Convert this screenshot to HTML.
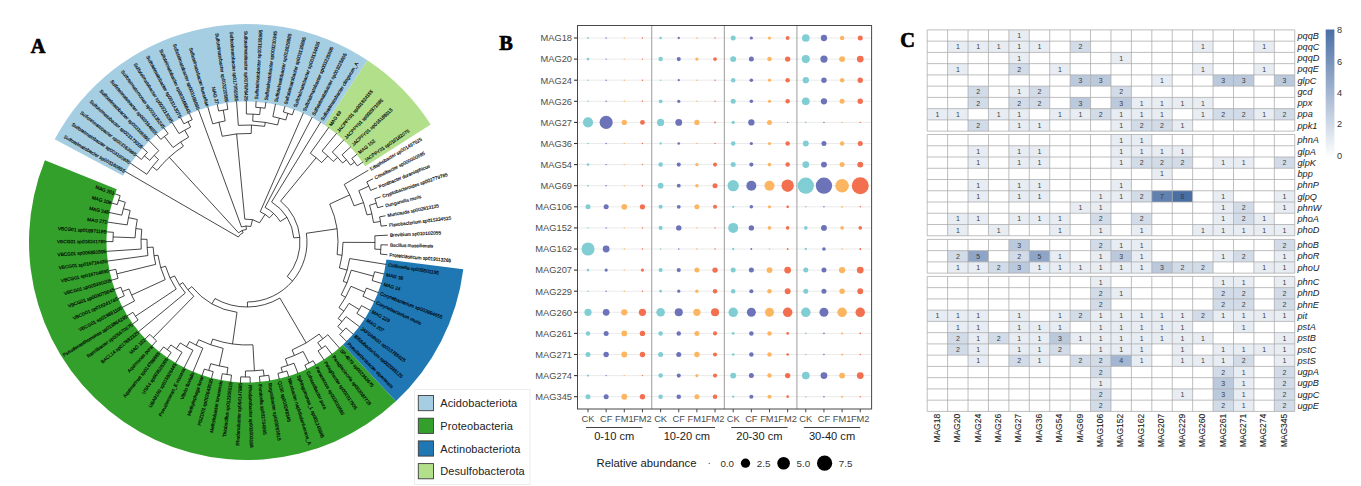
<!DOCTYPE html>
<html><head><meta charset="utf-8"><style>
html,body{margin:0;padding:0;background:#fff;}
svg{display:block;font-family:"Liberation Sans", sans-serif;}
</style></head><body>
<svg width="1361" height="486" viewBox="0 0 1361 486">
<rect width="1361" height="486" fill="#fff"/>
<path d="M44.93 160.20A218.0 218.0 0 0 0 395.86 401.27L342.94 344.65A140.5 140.5 0 0 1 116.77 189.28Z" fill="#33a02c"/><path d="M395.86 401.27A218.0 218.0 0 0 0 463.30 269.19L386.40 259.53A140.5 140.5 0 0 1 342.94 344.65Z" fill="#1f78b4"/><path d="M430.65 124.53A218.0 218.0 0 0 0 367.43 60.28L324.62 124.88A140.5 140.5 0 0 1 365.36 166.29Z" fill="#b2df8a"/><path d="M367.43 60.28A218.0 218.0 0 0 0 54.67 139.37L123.04 175.85A140.5 140.5 0 0 1 324.62 124.88Z" fill="#a6cee3"/><path d="M243.12 232.78A10.00 10.00 0 0 0 238.35 236.99M243.12 232.78L242.15 230.48M238.35 236.99L124.98 171.34M246.32 229.52A12.50 12.50 0 0 0 238.55 232.79M246.32 229.52L246.12 226.02M238.55 232.79L169.27 157.25M250.84 226.47A16.00 16.00 0 0 0 241.49 226.98M250.84 226.47L252.52 219.67M241.49 226.98L198.41 109.64M259.61 222.77A23.00 23.00 0 0 0 244.80 219.11M259.61 222.77L265.10 214.40M244.80 219.11L236.61 133.90M269.47 217.83A33.00 33.00 0 0 0 260.21 211.76M269.47 217.83L273.56 213.44M260.21 211.76L303.43 112.78M280.17 221.49A39.00 39.00 0 0 0 265.05 207.43M280.17 221.49L286.98 217.28M265.05 207.43L312.25 117.01M293.82 237.90A47.00 47.00 0 0 0 271.59 201.95M293.82 237.90L299.80 237.38M271.59 201.95L320.77 121.84M287.23 276.50A53.00 53.00 0 0 0 280.62 201.03M287.23 276.50L292.55 281.06M280.62 201.03L316.15 157.74M247.43 302.00A60.00 60.00 0 0 0 306.36 233.28M247.43 302.00L247.47 307.00M306.36 233.28L337.03 228.78M214.94 298.54A65.00 65.00 0 0 0 279.88 298.07M214.94 298.54L211.98 303.76M279.88 298.07L306.18 342.93M191.79 286.65A71.00 71.00 0 0 0 237.02 312.30M191.79 286.65L187.91 289.79M237.02 312.30L232.53 343.98M182.80 282.67A76.00 76.00 0 0 0 193.80 296.27M182.80 282.67L179.42 284.81M193.80 296.27L153.20 337.69M174.56 275.94A80.00 80.00 0 0 0 185.36 293.00M174.56 275.94L170.03 278.06M185.36 293.00L138.37 331.89M165.53 266.24A85.00 85.00 0 0 0 176.23 289.09M165.53 266.24L160.74 267.66M176.23 289.09L135.44 316.23M157.98 255.21A90.00 90.00 0 0 0 165.23 279.60M157.98 255.21L154.02 255.80M165.23 279.60L131.61 295.05M153.14 247.13A94.00 94.00 0 0 0 155.70 264.35M153.14 247.13L147.15 247.46M155.70 264.35L116.84 273.86M147.04 239.33A100.00 100.00 0 0 0 147.92 255.55M147.04 239.33L141.04 239.17M147.92 255.55L107.30 261.11M141.76 229.31A106.00 106.00 0 0 0 141.23 249.05M141.76 229.31L135.81 228.59M141.23 249.05L106.31 251.37M137.29 219.48A112.00 112.00 0 0 0 135.08 237.79M137.29 219.48L128.47 217.67M135.08 237.79L113.09 236.96M130.17 210.52A121.00 121.00 0 0 0 127.21 224.91M130.17 210.52L123.41 208.70M127.21 224.91L107.41 222.09M125.31 202.32A128.00 128.00 0 0 0 121.84 215.18M125.31 202.32L118.65 200.14M121.84 215.18L109.13 212.45M120.18 195.72A135.00 135.00 0 0 0 117.28 204.62M120.18 195.72L114.55 193.66M117.28 204.62L111.51 202.96M113.35 232.32A134.00 134.00 0 0 0 113.00 241.61M113.35 232.32L106.37 231.82M113.00 241.61L106.00 241.59M115.82 269.32A134.00 134.00 0 0 0 118.03 278.36M115.82 269.32L108.96 270.75M118.03 278.36L111.29 280.26M129.01 288.98A127.00 127.00 0 0 0 134.53 300.98M129.01 288.98L122.50 291.56M134.53 300.98L122.13 307.49M120.86 287.21A134.00 134.00 0 0 0 124.30 295.85M120.86 287.21L114.27 289.58M124.30 295.85L117.89 298.67M132.93 312.32A134.00 134.00 0 0 0 138.08 320.06M132.93 312.32L126.97 315.99M138.08 320.06L132.39 324.14M149.93 334.38A134.00 134.00 0 0 0 156.57 340.89M149.93 334.38L144.86 339.20M156.57 340.89L151.85 346.05M212.70 339.12A103.00 103.00 0 0 0 252.92 344.83M212.70 339.12L210.71 344.78M252.92 344.83L254.41 370.79M198.73 339.73A109.00 109.00 0 0 0 223.20 348.37M198.73 339.73L196.07 345.11M223.20 348.37L219.27 365.93M189.48 341.58A115.00 115.00 0 0 0 202.89 348.20M189.48 341.58L186.48 346.78M202.89 348.20L192.91 372.21M180.23 342.91A121.00 121.00 0 0 0 192.95 350.26M180.23 342.91L176.37 348.75M192.95 350.26L184.01 368.15M170.91 344.93A128.00 128.00 0 0 0 182.02 352.28M170.91 344.93L167.34 349.75M182.02 352.28L175.42 363.48M163.65 346.92A134.00 134.00 0 0 0 171.13 352.45M163.65 346.92L159.29 352.40M171.13 352.45L167.16 358.22M210.74 363.71A127.00 127.00 0 0 0 227.93 367.56M210.74 363.71L208.74 370.42M227.93 367.56L226.88 374.48M204.31 369.02A134.00 134.00 0 0 0 213.22 371.67M204.31 369.02L202.08 375.65M213.22 371.67L211.45 378.45M222.29 373.70A134.00 134.00 0 0 0 231.49 375.10M222.29 373.70L221.00 380.58M231.49 375.10L230.68 382.05M245.46 370.99A129.00 129.00 0 0 0 263.33 369.96M245.46 370.99L245.39 376.99M263.33 369.96L264.09 375.91M240.71 376.85A135.00 135.00 0 0 0 250.08 376.96M240.71 376.85L240.43 382.85M250.08 376.96L250.21 382.96M259.43 376.43A135.00 135.00 0 0 0 268.72 375.24M259.43 376.43L259.98 382.40M268.72 375.24L269.69 381.16M292.12 349.95A117.00 117.00 0 0 0 319.18 334.08M292.12 349.95L294.43 355.49M319.18 334.08L322.88 338.80M285.43 358.84A123.00 123.00 0 0 0 303.14 351.44M285.43 358.84L287.62 365.49M303.14 351.44L309.07 363.01M281.14 367.44A130.00 130.00 0 0 0 293.99 363.21M281.14 367.44L282.45 372.26M293.99 363.21L297.97 373.47M277.91 373.41A135.00 135.00 0 0 0 286.95 370.95M277.91 373.41L279.29 379.25M286.95 370.95L288.73 376.68M304.84 365.09A136.00 136.00 0 0 0 313.23 360.78M304.84 365.09L306.96 369.61M313.23 360.78L315.67 365.15M317.74 342.62A123.00 123.00 0 0 0 327.82 334.72M317.74 342.62L321.77 348.35M327.82 334.72L339.65 348.29M318.04 350.88A130.00 130.00 0 0 0 325.42 345.69M318.04 350.88L324.05 360.09M325.42 345.69L332.05 354.46M337.13 254.57A91.00 91.00 0 0 0 329.71 204.05M337.13 254.57L342.08 255.26M329.71 204.05L349.70 194.87M339.43 267.94A96.00 96.00 0 0 0 343.00 242.34M343.00 242.34L375.00 242.46M339.43 267.94L347.13 270.11M374.80 249.12A128.00 128.00 0 0 0 374.85 235.80M374.85 235.80L387.83 235.17M374.80 249.12L380.79 249.45M380.45 254.09A134.00 134.00 0 0 0 380.97 244.81M380.45 254.09L387.42 254.72M380.97 244.81L387.97 244.95M343.29 281.30A104.00 104.00 0 0 0 349.68 258.55M349.68 258.55L386.20 264.43M343.29 281.30L346.99 282.81M341.19 294.83A108.00 108.00 0 0 0 351.26 270.17M351.26 270.17L373.47 276.17M341.19 294.83L345.56 297.28M372.20 280.54A131.00 131.00 0 0 0 374.57 271.76M372.20 280.54L381.76 283.48M374.57 271.76L384.31 274.03M338.99 307.62A113.00 113.00 0 0 0 350.96 286.29M350.96 286.29L364.76 292.16M338.99 307.62L343.88 311.11M362.95 296.22A128.00 128.00 0 0 0 366.43 288.05M362.95 296.22L374.72 301.73M366.43 288.05L378.56 292.73M338.19 318.45A119.00 119.00 0 0 0 348.97 303.34M348.97 303.34L359.26 309.52M338.19 318.45L342.02 321.67M356.85 313.38A131.00 131.00 0 0 0 361.53 305.59M356.85 313.38L365.23 318.83M361.53 305.59L370.27 310.44M337.75 326.50A124.00 124.00 0 0 0 346.04 316.61M346.04 316.61L359.62 326.84M337.75 326.50L342.87 331.27M339.72 334.55A131.00 131.00 0 0 0 345.91 327.89M339.72 334.55L346.79 341.61M345.91 327.89L353.46 334.45M354.04 205.80A113.00 113.00 0 0 0 344.25 184.45M344.25 184.45L368.34 170.19M354.04 205.80L363.52 202.60M366.98 214.92A123.00 123.00 0 0 0 358.79 190.70M358.79 190.70L368.79 186.11M366.98 214.92L371.86 213.82M370.65 190.37A134.00 134.00 0 0 0 366.78 181.92M370.65 190.37L377.11 187.67M366.78 181.92L373.03 178.78M373.51 222.54A128.00 128.00 0 0 0 369.60 205.23M369.60 205.23L376.31 203.21M373.51 222.54L380.43 221.48M377.58 207.72A135.00 135.00 0 0 0 374.88 198.75M377.58 207.72L383.38 206.20M374.88 198.75L380.57 196.83M381.06 226.12A135.00 135.00 0 0 0 379.64 216.86M381.06 226.12L387.02 225.42M379.64 216.86L385.53 215.75M321.65 162.58A109.00 109.00 0 0 0 310.33 153.29M321.65 162.58L327.82 156.02M310.33 153.29L328.92 127.24M333.24 161.46A118.00 118.00 0 0 0 322.06 150.95M333.24 161.46L337.62 157.36M322.06 150.95L336.69 133.20M342.59 163.02A124.00 124.00 0 0 0 332.32 152.02M342.59 163.02L346.45 159.83M332.32 152.02L344.02 139.68M350.59 165.12A129.00 129.00 0 0 0 342.04 154.77M350.59 165.12L354.60 162.14M342.04 154.77L350.88 146.66M357.31 165.92A134.00 134.00 0 0 0 351.77 158.45M357.31 165.92L363.07 161.95M351.77 158.45L357.24 154.09M251.20 133.48A108.60 108.60 0 0 0 222.21 136.27M251.20 133.48L251.52 125.09M222.21 136.27L218.92 122.25M264.65 126.34A117.00 117.00 0 0 0 238.33 125.32M264.65 126.34L265.26 122.38M238.33 125.32L236.56 101.39M277.59 124.93A121.00 121.00 0 0 0 252.72 121.14M277.59 124.93L279.36 118.16M252.72 121.14L253.06 114.14M285.76 120.01A128.00 128.00 0 0 0 272.87 116.64M272.87 116.64L275.50 103.91M285.76 120.01L287.88 113.34M292.32 114.83A135.00 135.00 0 0 0 283.39 112.00M292.32 114.83L294.33 109.18M283.39 112.00L285.01 106.22M259.70 114.63A128.00 128.00 0 0 0 246.39 114.00M246.39 114.00L246.33 101.00M259.70 114.63L260.40 107.67M265.05 108.21A135.00 135.00 0 0 0 255.73 107.28M265.05 108.21L265.85 102.27M255.73 107.28L256.11 101.29M225.19 120.95A123.00 123.00 0 0 0 212.73 123.87M225.19 120.95L223.24 110.12M212.73 123.87L207.71 106.58M227.83 109.38A134.00 134.00 0 0 0 218.68 111.03M227.83 109.38L226.83 102.45M218.68 111.03L217.20 104.19M183.40 146.19A115.00 115.00 0 0 0 157.03 170.37M183.40 146.19L180.63 142.02M157.03 170.37L152.34 166.63M188.63 137.15A120.00 120.00 0 0 0 173.03 147.51M188.63 137.15L184.74 130.16M173.03 147.51L164.40 136.48M190.64 127.07A128.00 128.00 0 0 0 179.01 133.55M190.64 127.07L188.00 121.69M179.01 133.55L172.10 122.54M192.21 119.71A134.00 134.00 0 0 0 183.86 123.81M192.21 119.71L189.35 113.32M183.86 123.81L180.57 117.63M168.12 133.68A134.00 134.00 0 0 0 160.79 139.41M168.12 133.68L163.99 128.02M160.79 139.41L156.29 134.05M158.51 159.48A121.00 121.00 0 0 0 146.75 174.25M158.51 159.48L154.12 155.39M146.75 174.25L130.18 163.05M158.75 150.67A127.00 127.00 0 0 0 149.74 160.34M158.75 150.67L149.02 140.60M149.74 160.34L144.37 155.84M147.43 152.33A134.00 134.00 0 0 0 141.45 159.45M147.43 152.33L142.22 147.64M141.45 159.45L135.93 155.14" fill="none" stroke="#000" stroke-width="0.72"/><g font-size="4.75" fill="#000" stroke="#000" stroke-width="0.14"><text x="114.36" y="193.59" transform="rotate(20.05 114.36 193.59)" text-anchor="end" dy="1.7">MAG 261</text><text x="111.32" y="202.91" transform="rotate(16.07 111.32 202.91)" text-anchor="end" dy="1.7">MAG 106</text><text x="108.93" y="212.41" transform="rotate(12.10 108.93 212.41)" text-anchor="end" dy="1.7">MAG 345</text><text x="107.22" y="222.06" transform="rotate(8.12 107.22 222.06)" text-anchor="end" dy="1.7">MAG 271</text><text x="106.17" y="231.80" transform="rotate(4.14 106.17 231.80)" text-anchor="end" dy="1.7">VBCG01 sp018971195</text><text x="105.80" y="241.59" transform="rotate(0.17 105.80 241.59)" text-anchor="end" dy="1.7">VBCG01 sp018241785</text><text x="106.11" y="251.39" transform="rotate(-3.81 106.11 251.39)" text-anchor="end" dy="1.7">VBCG01 sp005881895</text><text x="107.10" y="261.14" transform="rotate(-7.79 107.10 261.14)" text-anchor="end" dy="1.7">VBCG01 sp016716435</text><text x="108.77" y="270.79" transform="rotate(-11.77 108.77 270.79)" text-anchor="end" dy="1.7">VBCG01 sp016704895</text><text x="111.10" y="280.31" transform="rotate(-15.74 111.10 280.31)" text-anchor="end" dy="1.7">VBCG01 sp005330205</text><text x="114.08" y="289.64" transform="rotate(-19.72 114.08 289.64)" text-anchor="end" dy="1.7">VBCG01 sp003079645</text><text x="117.71" y="298.75" transform="rotate(-23.70 117.71 298.75)" text-anchor="end" dy="1.7">VBCG01 sp016241745</text><text x="121.95" y="307.58" transform="rotate(-27.67 121.95 307.58)" text-anchor="end" dy="1.7">VBCG01 sp019861105</text><text x="126.80" y="316.09" transform="rotate(-31.65 126.80 316.09)" text-anchor="end" dy="1.7">Pseudoxanthomonas sp019864295</text><text x="132.23" y="324.25" transform="rotate(-35.63 132.23 324.25)" text-anchor="end" dy="1.7">Ramlibacter sp005670675</text><text x="138.21" y="332.01" transform="rotate(-39.60 138.21 332.01)" text-anchor="end" dy="1.7">BACL14 sp017882325</text><text x="144.72" y="339.34" transform="rotate(-43.58 144.72 339.34)" text-anchor="end" dy="1.7">MAG 162</text><text x="151.71" y="346.20" transform="rotate(-47.56 151.71 346.20)" text-anchor="end" dy="1.7">Aquimonas pura</text><text x="159.17" y="352.56" transform="rotate(-51.54 159.17 352.56)" text-anchor="end" dy="1.7">Aquimarinus sp014789855</text><text x="167.05" y="358.38" transform="rotate(-55.51 167.05 358.38)" text-anchor="end" dy="1.7">USA4 sp003526305</text><text x="175.31" y="363.65" transform="rotate(-59.49 175.31 363.65)" text-anchor="end" dy="1.7">UBA9160 sp015926445</text><text x="183.92" y="368.33" transform="rotate(-63.47 183.92 368.33)" text-anchor="end" dy="1.7">Pseudomonas_E viscosa</text><text x="192.84" y="372.40" transform="rotate(-67.44 192.84 372.40)" text-anchor="end" dy="1.7">Vibrio fluvialis</text><text x="202.01" y="375.84" transform="rotate(-71.42 202.01 375.84)" text-anchor="end" dy="1.7">Methylophaga lonar</text><text x="211.40" y="378.64" transform="rotate(-75.40 211.40 378.64)" text-anchor="end" dy="1.7">PGZD01 sp002643035</text><text x="220.97" y="380.78" transform="rotate(-79.38 220.97 380.78)" text-anchor="end" dy="1.7">Methylobacter lonarensis</text><text x="230.65" y="382.25" transform="rotate(-83.35 230.65 382.25)" text-anchor="end" dy="1.7">Thiobacillus sp012305515</text><text x="240.42" y="383.05" transform="rotate(-87.33 240.42 383.05)" text-anchor="end" dy="1.7">Rhodanobacter sp004147995</text><text x="250.26" y="384.96" transform="rotate(-271.31 250.26 384.96)" dy="1.7">Rhodanobacter sp003003188</text><text x="260.17" y="384.39" transform="rotate(-275.28 260.17 384.39)" dy="1.7">Fonticella sp002734595</text><text x="270.01" y="383.14" transform="rotate(-279.26 270.01 383.14)" dy="1.7">Rugosibacter sp003063615</text><text x="279.74" y="381.20" transform="rotate(-283.24 279.74 381.20)" dy="1.7">Q130 sp003248345</text><text x="289.32" y="378.59" transform="rotate(-287.21 289.32 378.59)" dy="1.7">Nitrobacter naphthalenivorans_A</text><text x="298.69" y="375.33" transform="rotate(-291.19 298.69 375.33)" dy="1.7">Sphingomonas_L sp001245685</text><text x="307.81" y="371.42" transform="rotate(-295.17 307.81 371.42)" dy="1.7">Cohaesibacter pura</text><text x="316.64" y="366.89" transform="rotate(-299.14 316.64 366.89)" dy="1.7">Paracoccus sp002019685</text><text x="325.14" y="361.76" transform="rotate(-303.12 325.14 361.76)" dy="1.7">Pelagibacter sp002017505</text><text x="333.26" y="356.06" transform="rotate(-307.10 333.26 356.06)" dy="1.7">Paraglaciecola sp002087725</text><text x="340.96" y="349.80" transform="rotate(-311.08 340.96 349.80)" dy="1.7">SP-4079 sp002363675</text><text x="348.21" y="343.02" transform="rotate(-315.05 348.21 343.02)" dy="1.7">Pseudarthrobacter viperiensis</text><text x="354.97" y="335.76" transform="rotate(-319.03 354.97 335.76)" dy="1.7">Bifidobacterium sp002098125</text><text x="361.22" y="328.05" transform="rotate(-323.01 361.22 328.05)" dy="1.7">JAFGMN01 sp013785925</text><text x="366.91" y="319.92" transform="rotate(-326.98 366.91 319.92)" dy="1.7">MAG 207</text><text x="372.02" y="311.41" transform="rotate(-330.96 372.02 311.41)" dy="1.7">MAG 229</text><text x="376.54" y="302.57" transform="rotate(-334.94 376.54 302.57)" dy="1.7">Corynebacterium muris</text><text x="380.43" y="293.44" transform="rotate(-338.91 380.43 293.44)" dy="1.7">Corynebacterium sp002994655</text><text x="383.67" y="284.07" transform="rotate(-342.89 383.67 284.07)" dy="1.7">MAG 24</text><text x="386.26" y="274.49" transform="rotate(-346.87 386.26 274.49)" dy="1.7">MAG 36</text><text x="388.18" y="264.75" transform="rotate(-350.85 388.18 264.75)" dy="1.7">Collinsella sp005501195</text><text x="389.42" y="254.90" transform="rotate(-354.82 389.42 254.90)" dy="1.7">Proteiclasticum sp019113265</text><text x="389.97" y="244.99" transform="rotate(-358.80 389.97 244.99)" dy="1.7">Bacillus massiliensis</text><text x="389.83" y="235.07" transform="rotate(-2.78 389.83 235.07)" dy="1.7">Brevibium sp010102055</text><text x="389.01" y="225.18" transform="rotate(-6.75 389.01 225.18)" dy="1.7">Flavobacterium sp015234525</text><text x="387.50" y="215.37" transform="rotate(-10.73 387.50 215.37)" dy="1.7">Muricauda sp002813125</text><text x="385.31" y="205.69" transform="rotate(-14.71 385.31 205.69)" dy="1.7">Dunganella muris</text><text x="382.46" y="196.19" transform="rotate(-18.68 382.46 196.19)" dy="1.7">Cryptobacteroides sp002779785</text><text x="378.96" y="186.90" transform="rotate(-22.66 378.96 186.90)" dy="1.7">Pontibacter duraniophicus</text><text x="374.82" y="177.88" transform="rotate(-26.64 374.82 177.88)" dy="1.7">Crinalbacter sp000000685</text><text x="370.07" y="169.17" transform="rotate(-30.62 370.07 169.17)" dy="1.7">Edaphobacter sp001497525</text><text x="364.72" y="160.81" transform="rotate(-34.59 364.72 160.81)" dy="1.7">JACPFY01 sp016182075</text><text x="358.80" y="152.84" transform="rotate(-38.57 358.80 152.84)" dy="1.7">MAG 152</text><text x="352.35" y="145.30" transform="rotate(-42.55 352.35 145.30)" dy="1.7">JACPFY01 sp016188015</text><text x="345.39" y="138.23" transform="rotate(-46.52 345.39 138.23)" dy="1.7">JACPFY01 sp002871685</text><text x="337.96" y="131.66" transform="rotate(-50.50 337.96 131.66)" dy="1.7">JACPFY01 sp001824155</text><text x="330.09" y="125.61" transform="rotate(-54.48 330.09 125.61)" dy="1.7">MAG 69</text><text x="321.81" y="120.13" transform="rotate(-58.45 321.81 120.13)" dy="1.7">Sulfotelmatobacter clingorum_A</text><text x="313.18" y="115.24" transform="rotate(-62.43 313.18 115.24)" dy="1.7">Sulfotelmatobacter sp003225605</text><text x="304.23" y="110.95" transform="rotate(-66.41 304.23 110.95)" dy="1.7">Sulfotelmatobacter sp003225595</text><text x="295.00" y="107.30" transform="rotate(-70.39 295.00 107.30)" dy="1.7">Sulfotelmatobacter sp003134655</text><text x="285.54" y="104.29" transform="rotate(-74.36 285.54 104.29)" dy="1.7">Sulfotelmatobacter sp003135895</text><text x="275.90" y="101.95" transform="rotate(-78.34 275.90 101.95)" dy="1.7">Sulfotelmatobacter sp013829985</text><text x="266.12" y="100.28" transform="rotate(-82.32 266.12 100.28)" dy="1.7">Sulfotelmatobacter sp003210345</text><text x="256.24" y="99.30" transform="rotate(-86.29 256.24 99.30)" dy="1.7">Sulfotelmatobacter sp003135895</text><text x="246.33" y="100.80" transform="rotate(89.73 246.33 100.80)" text-anchor="end" dy="1.7">Sulfotelmatobacter sp017876425</text><text x="236.54" y="101.19" transform="rotate(85.75 236.54 101.19)" text-anchor="end" dy="1.7">Sulfotelmatobacter sp017955585</text><text x="226.80" y="102.25" transform="rotate(81.78 226.80 102.25)" text-anchor="end" dy="1.7">Sulfotelmatobacter sp003220585</text><text x="217.16" y="103.99" transform="rotate(77.80 217.16 103.99)" text-anchor="end" dy="1.7">MAG 27</text><text x="207.66" y="106.39" transform="rotate(73.82 207.66 106.39)" text-anchor="end" dy="1.7">Sulfotelmatobacter kueseliae</text><text x="198.35" y="109.45" transform="rotate(69.84 198.35 109.45)" text-anchor="end" dy="1.7">Sulfotelmatobacter sp003166665</text><text x="189.27" y="113.14" transform="rotate(65.87 189.27 113.14)" text-anchor="end" dy="1.7">Sulfotelmatobacter sp003166845</text><text x="180.47" y="117.46" transform="rotate(61.89 180.47 117.46)" text-anchor="end" dy="1.7">Sulfotelmatobacter sp003143075</text><text x="171.99" y="122.37" transform="rotate(57.91 171.99 122.37)" text-anchor="end" dy="1.7">Sulfotelmatobacter sp003213295</text><text x="163.88" y="127.86" transform="rotate(53.94 163.88 127.86)" text-anchor="end" dy="1.7">Sulfotelmatomonas sp003135245</text><text x="156.16" y="133.90" transform="rotate(49.96 156.16 133.90)" text-anchor="end" dy="1.7">Sulfotelmatobacter sp003164655</text><text x="148.88" y="140.46" transform="rotate(45.98 148.88 140.46)" text-anchor="end" dy="1.7">Sulfotelmatobacter sp003166895</text><text x="142.08" y="147.51" transform="rotate(42.00 142.08 147.51)" text-anchor="end" dy="1.7">Sulfotelmatobacter sp003173005</text><text x="135.78" y="155.01" transform="rotate(38.03 135.78 155.01)" text-anchor="end" dy="1.7">Sulfotelmatobacter sp003163995</text><text x="130.01" y="162.94" transform="rotate(34.05 130.01 162.94)" text-anchor="end" dy="1.7">Sulfotelmatobacter sp003150835</text><text x="124.81" y="171.24" transform="rotate(30.07 124.81 171.24)" text-anchor="end" dy="1.7">Sulfotelmatobacter sp003160655</text></g><rect x="414.5" y="389.5" width="115.5" height="95" fill="#fff" stroke="#ececec" stroke-width="1"/><rect x="418.3" y="395.50" width="15.2" height="15.2" fill="#a6cee3" stroke="#3d3d3d" stroke-width="0.9"/><text x="440.3" y="407.10" font-size="11" fill="#222" letter-spacing="0.08">Acidobacteriota</text><rect x="418.3" y="418.20" width="15.2" height="15.2" fill="#33a02c" stroke="#3d3d3d" stroke-width="0.9"/><text x="440.3" y="429.80" font-size="11" fill="#222" letter-spacing="0.08">Proteobacteria</text><rect x="418.3" y="440.90" width="15.2" height="15.2" fill="#1f78b4" stroke="#3d3d3d" stroke-width="0.9"/><text x="440.3" y="452.50" font-size="11" fill="#222" letter-spacing="0.08">Actinobacteriota</text><rect x="418.3" y="463.60" width="15.2" height="15.2" fill="#b2df8a" stroke="#3d3d3d" stroke-width="0.9"/><text x="440.3" y="475.20" font-size="11" fill="#222" letter-spacing="0.08">Desulfobacterota</text><g font-family="Liberation Serif" font-weight="bold" font-size="20.3" stroke="#000" stroke-width="0.7"><text x="30.8" y="52.6">A</text><text x="499.3" y="49.5">B</text><text x="900.3" y="46.6">C</text></g><rect x="577.5" y="25.5" width="294.1" height="383.5" fill="#fff"/><line x1="577.5" y1="38.00" x2="871.6" y2="38.00" stroke="#ebebeb" stroke-width="1"/><line x1="577.5" y1="59.10" x2="871.6" y2="59.10" stroke="#ebebeb" stroke-width="1"/><line x1="577.5" y1="80.20" x2="871.6" y2="80.20" stroke="#ebebeb" stroke-width="1"/><line x1="577.5" y1="101.30" x2="871.6" y2="101.30" stroke="#ebebeb" stroke-width="1"/><line x1="577.5" y1="122.40" x2="871.6" y2="122.40" stroke="#ebebeb" stroke-width="1"/><line x1="577.5" y1="143.50" x2="871.6" y2="143.50" stroke="#ebebeb" stroke-width="1"/><line x1="577.5" y1="164.60" x2="871.6" y2="164.60" stroke="#ebebeb" stroke-width="1"/><line x1="577.5" y1="185.70" x2="871.6" y2="185.70" stroke="#ebebeb" stroke-width="1"/><line x1="577.5" y1="206.80" x2="871.6" y2="206.80" stroke="#ebebeb" stroke-width="1"/><line x1="577.5" y1="227.90" x2="871.6" y2="227.90" stroke="#ebebeb" stroke-width="1"/><line x1="577.5" y1="249.00" x2="871.6" y2="249.00" stroke="#ebebeb" stroke-width="1"/><line x1="577.5" y1="270.10" x2="871.6" y2="270.10" stroke="#ebebeb" stroke-width="1"/><line x1="577.5" y1="291.20" x2="871.6" y2="291.20" stroke="#ebebeb" stroke-width="1"/><line x1="577.5" y1="312.30" x2="871.6" y2="312.30" stroke="#ebebeb" stroke-width="1"/><line x1="577.5" y1="333.40" x2="871.6" y2="333.40" stroke="#ebebeb" stroke-width="1"/><line x1="577.5" y1="354.50" x2="871.6" y2="354.50" stroke="#ebebeb" stroke-width="1"/><line x1="577.5" y1="375.60" x2="871.6" y2="375.60" stroke="#ebebeb" stroke-width="1"/><line x1="577.5" y1="396.70" x2="871.6" y2="396.70" stroke="#ebebeb" stroke-width="1"/><line x1="651.73" y1="25.5" x2="651.73" y2="409.0" stroke="#a0a0a0" stroke-width="1.05"/><line x1="724.33" y1="25.5" x2="724.33" y2="409.0" stroke="#a0a0a0" stroke-width="1.05"/><line x1="796.93" y1="25.5" x2="796.93" y2="409.0" stroke="#a0a0a0" stroke-width="1.05"/><circle cx="588.00" cy="38.00" r="0.90" fill="#80ced3"/><circle cx="606.15" cy="38.00" r="0.72" fill="#6c73b8"/><circle cx="624.30" cy="38.00" r="0.72" fill="#fcb662"/><circle cx="642.45" cy="38.00" r="0.72" fill="#f27050"/><circle cx="660.60" cy="38.00" r="1.35" fill="#80ced3"/><circle cx="678.75" cy="38.00" r="1.15" fill="#6c73b8"/><circle cx="696.90" cy="38.00" r="0.72" fill="#fcb662"/><circle cx="715.05" cy="38.00" r="0.72" fill="#f27050"/><circle cx="733.20" cy="38.00" r="2.50" fill="#80ced3"/><circle cx="751.35" cy="38.00" r="1.60" fill="#6c73b8"/><circle cx="769.50" cy="38.00" r="1.60" fill="#fcb662"/><circle cx="787.65" cy="38.00" r="1.90" fill="#f27050"/><circle cx="805.80" cy="38.00" r="3.85" fill="#80ced3"/><circle cx="823.95" cy="38.00" r="3.15" fill="#6c73b8"/><circle cx="842.10" cy="38.00" r="2.25" fill="#fcb662"/><circle cx="860.25" cy="38.00" r="2.50" fill="#f27050"/><circle cx="588.00" cy="59.10" r="1.35" fill="#80ced3"/><circle cx="606.15" cy="59.10" r="0.72" fill="#6c73b8"/><circle cx="624.30" cy="59.10" r="0.72" fill="#fcb662"/><circle cx="642.45" cy="59.10" r="0.72" fill="#f27050"/><circle cx="660.60" cy="59.10" r="2.25" fill="#80ced3"/><circle cx="678.75" cy="59.10" r="2.05" fill="#6c73b8"/><circle cx="696.90" cy="59.10" r="1.70" fill="#fcb662"/><circle cx="715.05" cy="59.10" r="1.90" fill="#f27050"/><circle cx="733.20" cy="59.10" r="2.95" fill="#80ced3"/><circle cx="751.35" cy="59.10" r="2.50" fill="#6c73b8"/><circle cx="769.50" cy="59.10" r="2.25" fill="#fcb662"/><circle cx="787.65" cy="59.10" r="2.70" fill="#f27050"/><circle cx="805.80" cy="59.10" r="4.05" fill="#80ced3"/><circle cx="823.95" cy="59.10" r="3.60" fill="#6c73b8"/><circle cx="842.10" cy="59.10" r="2.95" fill="#fcb662"/><circle cx="860.25" cy="59.10" r="3.40" fill="#f27050"/><circle cx="588.00" cy="80.20" r="0.72" fill="#80ced3"/><circle cx="606.15" cy="80.20" r="0.72" fill="#6c73b8"/><circle cx="624.30" cy="80.20" r="0.72" fill="#fcb662"/><circle cx="642.45" cy="80.20" r="0.72" fill="#f27050"/><circle cx="660.60" cy="80.20" r="0.72" fill="#80ced3"/><circle cx="678.75" cy="80.20" r="1.15" fill="#6c73b8"/><circle cx="696.90" cy="80.20" r="0.72" fill="#fcb662"/><circle cx="715.05" cy="80.20" r="0.72" fill="#f27050"/><circle cx="733.20" cy="80.20" r="2.25" fill="#80ced3"/><circle cx="751.35" cy="80.20" r="1.80" fill="#6c73b8"/><circle cx="769.50" cy="80.20" r="1.60" fill="#fcb662"/><circle cx="787.65" cy="80.20" r="2.25" fill="#f27050"/><circle cx="805.80" cy="80.20" r="3.15" fill="#80ced3"/><circle cx="823.95" cy="80.20" r="2.70" fill="#6c73b8"/><circle cx="842.10" cy="80.20" r="2.25" fill="#fcb662"/><circle cx="860.25" cy="80.20" r="2.70" fill="#f27050"/><circle cx="588.00" cy="101.30" r="0.72" fill="#80ced3"/><circle cx="606.15" cy="101.30" r="0.72" fill="#6c73b8"/><circle cx="624.30" cy="101.30" r="0.72" fill="#fcb662"/><circle cx="642.45" cy="101.30" r="0.72" fill="#f27050"/><circle cx="660.60" cy="101.30" r="1.90" fill="#80ced3"/><circle cx="678.75" cy="101.30" r="1.60" fill="#6c73b8"/><circle cx="696.90" cy="101.30" r="0.72" fill="#fcb662"/><circle cx="715.05" cy="101.30" r="0.72" fill="#f27050"/><circle cx="733.20" cy="101.30" r="2.50" fill="#80ced3"/><circle cx="751.35" cy="101.30" r="1.80" fill="#6c73b8"/><circle cx="769.50" cy="101.30" r="1.60" fill="#fcb662"/><circle cx="787.65" cy="101.30" r="2.25" fill="#f27050"/><circle cx="805.80" cy="101.30" r="3.85" fill="#80ced3"/><circle cx="823.95" cy="101.30" r="3.15" fill="#6c73b8"/><circle cx="842.10" cy="101.30" r="2.50" fill="#fcb662"/><circle cx="860.25" cy="101.30" r="2.70" fill="#f27050"/><circle cx="588.00" cy="122.40" r="5.10" fill="#80ced3"/><circle cx="606.15" cy="122.40" r="6.55" fill="#6c73b8"/><circle cx="624.30" cy="122.40" r="2.60" fill="#fcb662"/><circle cx="642.45" cy="122.40" r="2.40" fill="#f27050"/><circle cx="660.60" cy="122.40" r="3.60" fill="#80ced3"/><circle cx="678.75" cy="122.40" r="3.40" fill="#6c73b8"/><circle cx="696.90" cy="122.40" r="2.60" fill="#fcb662"/><circle cx="715.05" cy="122.40" r="0.90" fill="#f27050"/><circle cx="733.20" cy="122.40" r="1.60" fill="#80ced3"/><circle cx="751.35" cy="122.40" r="3.15" fill="#6c73b8"/><circle cx="769.50" cy="122.40" r="2.50" fill="#fcb662"/><circle cx="787.65" cy="122.40" r="0.72" fill="#f27050"/><circle cx="805.80" cy="122.40" r="0.80" fill="#80ced3"/><circle cx="823.95" cy="122.40" r="0.72" fill="#6c73b8"/><circle cx="842.10" cy="122.40" r="0.72" fill="#fcb662"/><circle cx="860.25" cy="122.40" r="0.72" fill="#f27050"/><circle cx="588.00" cy="143.50" r="0.80" fill="#80ced3"/><circle cx="606.15" cy="143.50" r="0.72" fill="#6c73b8"/><circle cx="624.30" cy="143.50" r="0.72" fill="#fcb662"/><circle cx="642.45" cy="143.50" r="0.72" fill="#f27050"/><circle cx="660.60" cy="143.50" r="1.15" fill="#80ced3"/><circle cx="678.75" cy="143.50" r="1.35" fill="#6c73b8"/><circle cx="696.90" cy="143.50" r="0.72" fill="#fcb662"/><circle cx="715.05" cy="143.50" r="0.72" fill="#f27050"/><circle cx="733.20" cy="143.50" r="2.25" fill="#80ced3"/><circle cx="751.35" cy="143.50" r="1.60" fill="#6c73b8"/><circle cx="769.50" cy="143.50" r="1.60" fill="#fcb662"/><circle cx="787.65" cy="143.50" r="2.25" fill="#f27050"/><circle cx="805.80" cy="143.50" r="2.95" fill="#80ced3"/><circle cx="823.95" cy="143.50" r="2.50" fill="#6c73b8"/><circle cx="842.10" cy="143.50" r="2.25" fill="#fcb662"/><circle cx="860.25" cy="143.50" r="2.50" fill="#f27050"/><circle cx="588.00" cy="164.60" r="1.35" fill="#80ced3"/><circle cx="606.15" cy="164.60" r="0.72" fill="#6c73b8"/><circle cx="624.30" cy="164.60" r="0.72" fill="#fcb662"/><circle cx="642.45" cy="164.60" r="0.72" fill="#f27050"/><circle cx="660.60" cy="164.60" r="2.25" fill="#80ced3"/><circle cx="678.75" cy="164.60" r="2.05" fill="#6c73b8"/><circle cx="696.90" cy="164.60" r="1.70" fill="#fcb662"/><circle cx="715.05" cy="164.60" r="2.05" fill="#f27050"/><circle cx="733.20" cy="164.60" r="2.50" fill="#80ced3"/><circle cx="751.35" cy="164.60" r="2.05" fill="#6c73b8"/><circle cx="769.50" cy="164.60" r="1.80" fill="#fcb662"/><circle cx="787.65" cy="164.60" r="2.25" fill="#f27050"/><circle cx="805.80" cy="164.60" r="3.40" fill="#80ced3"/><circle cx="823.95" cy="164.60" r="2.95" fill="#6c73b8"/><circle cx="842.10" cy="164.60" r="2.50" fill="#fcb662"/><circle cx="860.25" cy="164.60" r="2.95" fill="#f27050"/><circle cx="588.00" cy="185.70" r="0.90" fill="#80ced3"/><circle cx="606.15" cy="185.70" r="0.72" fill="#6c73b8"/><circle cx="624.30" cy="185.70" r="0.72" fill="#fcb662"/><circle cx="642.45" cy="185.70" r="0.72" fill="#f27050"/><circle cx="660.60" cy="185.70" r="2.85" fill="#80ced3"/><circle cx="678.75" cy="185.70" r="1.90" fill="#6c73b8"/><circle cx="696.90" cy="185.70" r="1.70" fill="#fcb662"/><circle cx="715.05" cy="185.70" r="2.50" fill="#f27050"/><circle cx="733.20" cy="185.70" r="5.65" fill="#80ced3"/><circle cx="751.35" cy="185.70" r="5.00" fill="#6c73b8"/><circle cx="769.50" cy="185.70" r="5.00" fill="#fcb662"/><circle cx="787.65" cy="185.70" r="6.20" fill="#f27050"/><circle cx="805.80" cy="185.70" r="8.15" fill="#80ced3"/><circle cx="823.95" cy="185.70" r="8.15" fill="#6c73b8"/><circle cx="842.10" cy="185.70" r="6.80" fill="#fcb662"/><circle cx="860.25" cy="185.70" r="8.50" fill="#f27050"/><circle cx="588.00" cy="206.80" r="2.50" fill="#80ced3"/><circle cx="606.15" cy="206.80" r="2.50" fill="#6c73b8"/><circle cx="624.30" cy="206.80" r="2.85" fill="#fcb662"/><circle cx="642.45" cy="206.80" r="2.60" fill="#f27050"/><circle cx="660.60" cy="206.80" r="2.05" fill="#80ced3"/><circle cx="678.75" cy="206.80" r="1.90" fill="#6c73b8"/><circle cx="696.90" cy="206.80" r="2.50" fill="#fcb662"/><circle cx="715.05" cy="206.80" r="2.05" fill="#f27050"/><circle cx="733.20" cy="206.80" r="1.15" fill="#80ced3"/><circle cx="751.35" cy="206.80" r="1.80" fill="#6c73b8"/><circle cx="769.50" cy="206.80" r="1.60" fill="#fcb662"/><circle cx="787.65" cy="206.80" r="1.35" fill="#f27050"/><circle cx="805.80" cy="206.80" r="0.80" fill="#80ced3"/><circle cx="823.95" cy="206.80" r="0.72" fill="#6c73b8"/><circle cx="842.10" cy="206.80" r="0.90" fill="#fcb662"/><circle cx="860.25" cy="206.80" r="0.72" fill="#f27050"/><circle cx="588.00" cy="227.90" r="0.72" fill="#80ced3"/><circle cx="606.15" cy="227.90" r="0.72" fill="#6c73b8"/><circle cx="624.30" cy="227.90" r="0.72" fill="#fcb662"/><circle cx="642.45" cy="227.90" r="0.72" fill="#f27050"/><circle cx="660.60" cy="227.90" r="2.05" fill="#80ced3"/><circle cx="678.75" cy="227.90" r="2.70" fill="#6c73b8"/><circle cx="696.90" cy="227.90" r="0.72" fill="#fcb662"/><circle cx="715.05" cy="227.90" r="0.72" fill="#f27050"/><circle cx="733.20" cy="227.90" r="5.00" fill="#80ced3"/><circle cx="751.35" cy="227.90" r="2.70" fill="#6c73b8"/><circle cx="769.50" cy="227.90" r="1.80" fill="#fcb662"/><circle cx="787.65" cy="227.90" r="1.80" fill="#f27050"/><circle cx="805.80" cy="227.90" r="1.80" fill="#80ced3"/><circle cx="823.95" cy="227.90" r="2.95" fill="#6c73b8"/><circle cx="842.10" cy="227.90" r="1.80" fill="#fcb662"/><circle cx="860.25" cy="227.90" r="1.80" fill="#f27050"/><circle cx="588.00" cy="249.00" r="6.55" fill="#80ced3"/><circle cx="606.15" cy="249.00" r="3.40" fill="#6c73b8"/><circle cx="624.30" cy="249.00" r="0.72" fill="#fcb662"/><circle cx="642.45" cy="249.00" r="0.72" fill="#f27050"/><circle cx="660.60" cy="249.00" r="0.72" fill="#80ced3"/><circle cx="678.75" cy="249.00" r="0.72" fill="#6c73b8"/><circle cx="696.90" cy="249.00" r="0.72" fill="#fcb662"/><circle cx="715.05" cy="249.00" r="0.72" fill="#f27050"/><circle cx="733.20" cy="249.00" r="1.15" fill="#80ced3"/><circle cx="751.35" cy="249.00" r="0.90" fill="#6c73b8"/><circle cx="769.50" cy="249.00" r="0.72" fill="#fcb662"/><circle cx="787.65" cy="249.00" r="0.90" fill="#f27050"/><circle cx="805.80" cy="249.00" r="1.15" fill="#80ced3"/><circle cx="823.95" cy="249.00" r="1.80" fill="#6c73b8"/><circle cx="842.10" cy="249.00" r="0.72" fill="#fcb662"/><circle cx="860.25" cy="249.00" r="0.90" fill="#f27050"/><circle cx="588.00" cy="270.10" r="1.35" fill="#80ced3"/><circle cx="606.15" cy="270.10" r="1.60" fill="#6c73b8"/><circle cx="624.30" cy="270.10" r="0.72" fill="#fcb662"/><circle cx="642.45" cy="270.10" r="1.60" fill="#f27050"/><circle cx="660.60" cy="270.10" r="2.05" fill="#80ced3"/><circle cx="678.75" cy="270.10" r="2.05" fill="#6c73b8"/><circle cx="696.90" cy="270.10" r="2.50" fill="#fcb662"/><circle cx="715.05" cy="270.10" r="2.70" fill="#f27050"/><circle cx="733.20" cy="270.10" r="2.50" fill="#80ced3"/><circle cx="751.35" cy="270.10" r="2.50" fill="#6c73b8"/><circle cx="769.50" cy="270.10" r="2.95" fill="#fcb662"/><circle cx="787.65" cy="270.10" r="3.40" fill="#f27050"/><circle cx="805.80" cy="270.10" r="2.50" fill="#80ced3"/><circle cx="823.95" cy="270.10" r="2.50" fill="#6c73b8"/><circle cx="842.10" cy="270.10" r="3.15" fill="#fcb662"/><circle cx="860.25" cy="270.10" r="3.40" fill="#f27050"/><circle cx="588.00" cy="291.20" r="0.72" fill="#80ced3"/><circle cx="606.15" cy="291.20" r="0.72" fill="#6c73b8"/><circle cx="624.30" cy="291.20" r="0.72" fill="#fcb662"/><circle cx="642.45" cy="291.20" r="0.72" fill="#f27050"/><circle cx="660.60" cy="291.20" r="1.35" fill="#80ced3"/><circle cx="678.75" cy="291.20" r="1.60" fill="#6c73b8"/><circle cx="696.90" cy="291.20" r="1.70" fill="#fcb662"/><circle cx="715.05" cy="291.20" r="2.25" fill="#f27050"/><circle cx="733.20" cy="291.20" r="2.25" fill="#80ced3"/><circle cx="751.35" cy="291.20" r="2.05" fill="#6c73b8"/><circle cx="769.50" cy="291.20" r="2.25" fill="#fcb662"/><circle cx="787.65" cy="291.20" r="2.95" fill="#f27050"/><circle cx="805.80" cy="291.20" r="2.50" fill="#80ced3"/><circle cx="823.95" cy="291.20" r="2.50" fill="#6c73b8"/><circle cx="842.10" cy="291.20" r="2.70" fill="#fcb662"/><circle cx="860.25" cy="291.20" r="2.95" fill="#f27050"/><circle cx="588.00" cy="312.30" r="3.60" fill="#80ced3"/><circle cx="606.15" cy="312.30" r="3.40" fill="#6c73b8"/><circle cx="624.30" cy="312.30" r="3.15" fill="#fcb662"/><circle cx="642.45" cy="312.30" r="3.60" fill="#f27050"/><circle cx="660.60" cy="312.30" r="4.30" fill="#80ced3"/><circle cx="678.75" cy="312.30" r="4.05" fill="#6c73b8"/><circle cx="696.90" cy="312.30" r="3.60" fill="#fcb662"/><circle cx="715.05" cy="312.30" r="4.05" fill="#f27050"/><circle cx="733.20" cy="312.30" r="4.75" fill="#80ced3"/><circle cx="751.35" cy="312.30" r="4.50" fill="#6c73b8"/><circle cx="769.50" cy="312.30" r="4.50" fill="#fcb662"/><circle cx="787.65" cy="312.30" r="4.75" fill="#f27050"/><circle cx="805.80" cy="312.30" r="4.75" fill="#80ced3"/><circle cx="823.95" cy="312.30" r="4.50" fill="#6c73b8"/><circle cx="842.10" cy="312.30" r="4.75" fill="#fcb662"/><circle cx="860.25" cy="312.30" r="4.75" fill="#f27050"/><circle cx="588.00" cy="333.40" r="2.25" fill="#80ced3"/><circle cx="606.15" cy="333.40" r="2.50" fill="#6c73b8"/><circle cx="624.30" cy="333.40" r="2.85" fill="#fcb662"/><circle cx="642.45" cy="333.40" r="2.70" fill="#f27050"/><circle cx="660.60" cy="333.40" r="2.25" fill="#80ced3"/><circle cx="678.75" cy="333.40" r="2.25" fill="#6c73b8"/><circle cx="696.90" cy="333.40" r="2.50" fill="#fcb662"/><circle cx="715.05" cy="333.40" r="2.05" fill="#f27050"/><circle cx="733.20" cy="333.40" r="1.35" fill="#80ced3"/><circle cx="751.35" cy="333.40" r="2.25" fill="#6c73b8"/><circle cx="769.50" cy="333.40" r="2.25" fill="#fcb662"/><circle cx="787.65" cy="333.40" r="1.35" fill="#f27050"/><circle cx="805.80" cy="333.40" r="0.80" fill="#80ced3"/><circle cx="823.95" cy="333.40" r="0.80" fill="#6c73b8"/><circle cx="842.10" cy="333.40" r="1.00" fill="#fcb662"/><circle cx="860.25" cy="333.40" r="0.80" fill="#f27050"/><circle cx="588.00" cy="354.50" r="2.50" fill="#80ced3"/><circle cx="606.15" cy="354.50" r="2.70" fill="#6c73b8"/><circle cx="624.30" cy="354.50" r="2.95" fill="#fcb662"/><circle cx="642.45" cy="354.50" r="2.70" fill="#f27050"/><circle cx="660.60" cy="354.50" r="2.50" fill="#80ced3"/><circle cx="678.75" cy="354.50" r="2.50" fill="#6c73b8"/><circle cx="696.90" cy="354.50" r="2.70" fill="#fcb662"/><circle cx="715.05" cy="354.50" r="2.05" fill="#f27050"/><circle cx="733.20" cy="354.50" r="1.35" fill="#80ced3"/><circle cx="751.35" cy="354.50" r="2.25" fill="#6c73b8"/><circle cx="769.50" cy="354.50" r="2.25" fill="#fcb662"/><circle cx="787.65" cy="354.50" r="1.35" fill="#f27050"/><circle cx="805.80" cy="354.50" r="0.80" fill="#80ced3"/><circle cx="823.95" cy="354.50" r="0.80" fill="#6c73b8"/><circle cx="842.10" cy="354.50" r="1.00" fill="#fcb662"/><circle cx="860.25" cy="354.50" r="0.72" fill="#f27050"/><circle cx="588.00" cy="375.60" r="1.15" fill="#80ced3"/><circle cx="606.15" cy="375.60" r="0.72" fill="#6c73b8"/><circle cx="624.30" cy="375.60" r="0.72" fill="#fcb662"/><circle cx="642.45" cy="375.60" r="0.72" fill="#f27050"/><circle cx="660.60" cy="375.60" r="2.25" fill="#80ced3"/><circle cx="678.75" cy="375.60" r="2.05" fill="#6c73b8"/><circle cx="696.90" cy="375.60" r="1.60" fill="#fcb662"/><circle cx="715.05" cy="375.60" r="2.05" fill="#f27050"/><circle cx="733.20" cy="375.60" r="2.95" fill="#80ced3"/><circle cx="751.35" cy="375.60" r="2.50" fill="#6c73b8"/><circle cx="769.50" cy="375.60" r="2.25" fill="#fcb662"/><circle cx="787.65" cy="375.60" r="2.70" fill="#f27050"/><circle cx="805.80" cy="375.60" r="3.85" fill="#80ced3"/><circle cx="823.95" cy="375.60" r="3.40" fill="#6c73b8"/><circle cx="842.10" cy="375.60" r="2.95" fill="#fcb662"/><circle cx="860.25" cy="375.60" r="3.40" fill="#f27050"/><circle cx="588.00" cy="396.70" r="2.50" fill="#80ced3"/><circle cx="606.15" cy="396.70" r="2.50" fill="#6c73b8"/><circle cx="624.30" cy="396.70" r="2.95" fill="#fcb662"/><circle cx="642.45" cy="396.70" r="2.70" fill="#f27050"/><circle cx="660.60" cy="396.70" r="2.25" fill="#80ced3"/><circle cx="678.75" cy="396.70" r="2.25" fill="#6c73b8"/><circle cx="696.90" cy="396.70" r="2.50" fill="#fcb662"/><circle cx="715.05" cy="396.70" r="2.25" fill="#f27050"/><circle cx="733.20" cy="396.70" r="1.15" fill="#80ced3"/><circle cx="751.35" cy="396.70" r="2.05" fill="#6c73b8"/><circle cx="769.50" cy="396.70" r="2.05" fill="#fcb662"/><circle cx="787.65" cy="396.70" r="1.35" fill="#f27050"/><circle cx="805.80" cy="396.70" r="0.80" fill="#80ced3"/><circle cx="823.95" cy="396.70" r="0.80" fill="#6c73b8"/><circle cx="842.10" cy="396.70" r="1.00" fill="#fcb662"/><circle cx="860.25" cy="396.70" r="0.72" fill="#f27050"/><rect x="577.5" y="25.5" width="294.1" height="383.5" fill="none" stroke="#474747" stroke-width="1"/><g font-size="9.3" fill="#4d4d4d"><text x="572" y="41.30" text-anchor="end">MAG18</text><line x1="574.0" y1="38.00" x2="577.5" y2="38.00" stroke="#333" stroke-width="1.1"/><text x="572" y="62.40" text-anchor="end">MAG20</text><line x1="574.0" y1="59.10" x2="577.5" y2="59.10" stroke="#333" stroke-width="1.1"/><text x="572" y="83.50" text-anchor="end">MAG24</text><line x1="574.0" y1="80.20" x2="577.5" y2="80.20" stroke="#333" stroke-width="1.1"/><text x="572" y="104.60" text-anchor="end">MAG26</text><line x1="574.0" y1="101.30" x2="577.5" y2="101.30" stroke="#333" stroke-width="1.1"/><text x="572" y="125.70" text-anchor="end">MAG27</text><line x1="574.0" y1="122.40" x2="577.5" y2="122.40" stroke="#333" stroke-width="1.1"/><text x="572" y="146.80" text-anchor="end">MAG36</text><line x1="574.0" y1="143.50" x2="577.5" y2="143.50" stroke="#333" stroke-width="1.1"/><text x="572" y="167.90" text-anchor="end">MAG54</text><line x1="574.0" y1="164.60" x2="577.5" y2="164.60" stroke="#333" stroke-width="1.1"/><text x="572" y="189.00" text-anchor="end">MAG69</text><line x1="574.0" y1="185.70" x2="577.5" y2="185.70" stroke="#333" stroke-width="1.1"/><text x="572" y="210.10" text-anchor="end">MAG106</text><line x1="574.0" y1="206.80" x2="577.5" y2="206.80" stroke="#333" stroke-width="1.1"/><text x="572" y="231.20" text-anchor="end">MAG152</text><line x1="574.0" y1="227.90" x2="577.5" y2="227.90" stroke="#333" stroke-width="1.1"/><text x="572" y="252.30" text-anchor="end">MAG162</text><line x1="574.0" y1="249.00" x2="577.5" y2="249.00" stroke="#333" stroke-width="1.1"/><text x="572" y="273.40" text-anchor="end">MAG207</text><line x1="574.0" y1="270.10" x2="577.5" y2="270.10" stroke="#333" stroke-width="1.1"/><text x="572" y="294.50" text-anchor="end">MAG229</text><line x1="574.0" y1="291.20" x2="577.5" y2="291.20" stroke="#333" stroke-width="1.1"/><text x="572" y="315.60" text-anchor="end">MAG260</text><line x1="574.0" y1="312.30" x2="577.5" y2="312.30" stroke="#333" stroke-width="1.1"/><text x="572" y="336.70" text-anchor="end">MAG261</text><line x1="574.0" y1="333.40" x2="577.5" y2="333.40" stroke="#333" stroke-width="1.1"/><text x="572" y="357.80" text-anchor="end">MAG271</text><line x1="574.0" y1="354.50" x2="577.5" y2="354.50" stroke="#333" stroke-width="1.1"/><text x="572" y="378.90" text-anchor="end">MAG274</text><line x1="574.0" y1="375.60" x2="577.5" y2="375.60" stroke="#333" stroke-width="1.1"/><text x="572" y="400.00" text-anchor="end">MAG345</text><line x1="574.0" y1="396.70" x2="577.5" y2="396.70" stroke="#333" stroke-width="1.1"/><text x="588.00" y="422.2" text-anchor="middle">CK</text><line x1="588.00" y1="409.0" x2="588.00" y2="412.3" stroke="#333" stroke-width="0.9"/><text x="606.15" y="422.2" text-anchor="middle">CF</text><line x1="606.15" y1="409.0" x2="606.15" y2="412.3" stroke="#333" stroke-width="0.9"/><text x="624.30" y="422.2" text-anchor="middle">FM1</text><line x1="624.30" y1="409.0" x2="624.30" y2="412.3" stroke="#333" stroke-width="0.9"/><text x="642.45" y="422.2" text-anchor="middle">FM2</text><line x1="642.45" y1="409.0" x2="642.45" y2="412.3" stroke="#333" stroke-width="0.9"/><text x="660.60" y="422.2" text-anchor="middle">CK</text><line x1="660.60" y1="409.0" x2="660.60" y2="412.3" stroke="#333" stroke-width="0.9"/><text x="678.75" y="422.2" text-anchor="middle">CF</text><line x1="678.75" y1="409.0" x2="678.75" y2="412.3" stroke="#333" stroke-width="0.9"/><text x="696.90" y="422.2" text-anchor="middle">FM1</text><line x1="696.90" y1="409.0" x2="696.90" y2="412.3" stroke="#333" stroke-width="0.9"/><text x="715.05" y="422.2" text-anchor="middle">FM2</text><line x1="715.05" y1="409.0" x2="715.05" y2="412.3" stroke="#333" stroke-width="0.9"/><text x="733.20" y="422.2" text-anchor="middle">CK</text><line x1="733.20" y1="409.0" x2="733.20" y2="412.3" stroke="#333" stroke-width="0.9"/><text x="751.35" y="422.2" text-anchor="middle">CF</text><line x1="751.35" y1="409.0" x2="751.35" y2="412.3" stroke="#333" stroke-width="0.9"/><text x="769.50" y="422.2" text-anchor="middle">FM1</text><line x1="769.50" y1="409.0" x2="769.50" y2="412.3" stroke="#333" stroke-width="0.9"/><text x="787.65" y="422.2" text-anchor="middle">FM2</text><line x1="787.65" y1="409.0" x2="787.65" y2="412.3" stroke="#333" stroke-width="0.9"/><text x="805.80" y="422.2" text-anchor="middle">CK</text><line x1="805.80" y1="409.0" x2="805.80" y2="412.3" stroke="#333" stroke-width="0.9"/><text x="823.95" y="422.2" text-anchor="middle">CF</text><line x1="823.95" y1="409.0" x2="823.95" y2="412.3" stroke="#333" stroke-width="0.9"/><text x="842.10" y="422.2" text-anchor="middle">FM1</text><line x1="842.10" y1="409.0" x2="842.10" y2="412.3" stroke="#333" stroke-width="0.9"/><text x="860.25" y="422.2" text-anchor="middle">FM2</text><line x1="860.25" y1="409.0" x2="860.25" y2="412.3" stroke="#333" stroke-width="0.9"/></g><line x1="586.00" y1="427.5" x2="642.45" y2="427.5" stroke="#111" stroke-width="0.8"/><text x="614.23" y="440" text-anchor="middle" font-size="11.1" fill="#1a1a1a">0-10 cm</text><line x1="658.60" y1="427.5" x2="715.05" y2="427.5" stroke="#111" stroke-width="0.8"/><text x="686.83" y="440" text-anchor="middle" font-size="11.1" fill="#1a1a1a">10-20 cm</text><line x1="731.20" y1="427.5" x2="787.65" y2="427.5" stroke="#111" stroke-width="0.8"/><text x="759.42" y="440" text-anchor="middle" font-size="11.1" fill="#1a1a1a">20-30 cm</text><line x1="803.80" y1="427.5" x2="860.25" y2="427.5" stroke="#111" stroke-width="0.8"/><text x="832.02" y="440" text-anchor="middle" font-size="11.1" fill="#1a1a1a">30-40 cm</text><text x="596.6" y="467.3" font-size="11.3" fill="#1a1a1a">Relative abundance</text><circle cx="709.2" cy="463.2" r="0.55" fill="#000"/><circle cx="745.5" cy="463.2" r="4.65" fill="#000"/><circle cx="783.6" cy="463.2" r="6.3" fill="#000"/><circle cx="824.6" cy="463.2" r="7.6" fill="#000"/><text x="720.4" y="467" font-size="9.8" fill="#333">0.0</text><text x="756.8" y="467" font-size="9.8" fill="#333">2.5</text><text x="796.5" y="467" font-size="9.8" fill="#333">5.0</text><text x="838.8" y="467" font-size="9.8" fill="#333">7.5</text><rect x="927.20" y="29.90" width="20.42" height="11.25" fill="#ffffff"/><rect x="947.62" y="29.90" width="20.42" height="11.25" fill="#ffffff"/><rect x="968.04" y="29.90" width="20.42" height="11.25" fill="#ffffff"/><rect x="988.46" y="29.90" width="20.42" height="11.25" fill="#ffffff"/><rect x="1008.88" y="29.90" width="20.42" height="11.25" fill="#e8edf4"/><rect x="1029.30" y="29.90" width="20.42" height="11.25" fill="#ffffff"/><rect x="1049.72" y="29.90" width="20.42" height="11.25" fill="#ffffff"/><rect x="1070.14" y="29.90" width="20.42" height="11.25" fill="#ffffff"/><rect x="1090.56" y="29.90" width="20.42" height="11.25" fill="#ffffff"/><rect x="1110.98" y="29.90" width="20.42" height="11.25" fill="#ffffff"/><rect x="1131.40" y="29.90" width="20.42" height="11.25" fill="#ffffff"/><rect x="1151.82" y="29.90" width="20.42" height="11.25" fill="#ffffff"/><rect x="1172.24" y="29.90" width="20.42" height="11.25" fill="#ffffff"/><rect x="1192.66" y="29.90" width="20.42" height="11.25" fill="#ffffff"/><rect x="1213.08" y="29.90" width="20.42" height="11.25" fill="#ffffff"/><rect x="1233.50" y="29.90" width="20.42" height="11.25" fill="#ffffff"/><rect x="1253.92" y="29.90" width="20.42" height="11.25" fill="#ffffff"/><rect x="1274.34" y="29.90" width="20.42" height="11.25" fill="#ffffff"/><rect x="927.20" y="41.15" width="20.42" height="11.25" fill="#ffffff"/><rect x="947.62" y="41.15" width="20.42" height="11.25" fill="#e8edf4"/><rect x="968.04" y="41.15" width="20.42" height="11.25" fill="#e8edf4"/><rect x="988.46" y="41.15" width="20.42" height="11.25" fill="#e8edf4"/><rect x="1008.88" y="41.15" width="20.42" height="11.25" fill="#e8edf4"/><rect x="1029.30" y="41.15" width="20.42" height="11.25" fill="#e8edf4"/><rect x="1049.72" y="41.15" width="20.42" height="11.25" fill="#ffffff"/><rect x="1070.14" y="41.15" width="20.42" height="11.25" fill="#d2dbe8"/><rect x="1090.56" y="41.15" width="20.42" height="11.25" fill="#ffffff"/><rect x="1110.98" y="41.15" width="20.42" height="11.25" fill="#ffffff"/><rect x="1131.40" y="41.15" width="20.42" height="11.25" fill="#ffffff"/><rect x="1151.82" y="41.15" width="20.42" height="11.25" fill="#ffffff"/><rect x="1172.24" y="41.15" width="20.42" height="11.25" fill="#ffffff"/><rect x="1192.66" y="41.15" width="20.42" height="11.25" fill="#e8edf4"/><rect x="1213.08" y="41.15" width="20.42" height="11.25" fill="#ffffff"/><rect x="1233.50" y="41.15" width="20.42" height="11.25" fill="#ffffff"/><rect x="1253.92" y="41.15" width="20.42" height="11.25" fill="#e8edf4"/><rect x="1274.34" y="41.15" width="20.42" height="11.25" fill="#ffffff"/><rect x="927.20" y="52.40" width="20.42" height="11.25" fill="#ffffff"/><rect x="947.62" y="52.40" width="20.42" height="11.25" fill="#ffffff"/><rect x="968.04" y="52.40" width="20.42" height="11.25" fill="#ffffff"/><rect x="988.46" y="52.40" width="20.42" height="11.25" fill="#ffffff"/><rect x="1008.88" y="52.40" width="20.42" height="11.25" fill="#e8edf4"/><rect x="1029.30" y="52.40" width="20.42" height="11.25" fill="#ffffff"/><rect x="1049.72" y="52.40" width="20.42" height="11.25" fill="#ffffff"/><rect x="1070.14" y="52.40" width="20.42" height="11.25" fill="#ffffff"/><rect x="1090.56" y="52.40" width="20.42" height="11.25" fill="#ffffff"/><rect x="1110.98" y="52.40" width="20.42" height="11.25" fill="#e8edf4"/><rect x="1131.40" y="52.40" width="20.42" height="11.25" fill="#ffffff"/><rect x="1151.82" y="52.40" width="20.42" height="11.25" fill="#ffffff"/><rect x="1172.24" y="52.40" width="20.42" height="11.25" fill="#ffffff"/><rect x="1192.66" y="52.40" width="20.42" height="11.25" fill="#ffffff"/><rect x="1213.08" y="52.40" width="20.42" height="11.25" fill="#ffffff"/><rect x="1233.50" y="52.40" width="20.42" height="11.25" fill="#ffffff"/><rect x="1253.92" y="52.40" width="20.42" height="11.25" fill="#ffffff"/><rect x="1274.34" y="52.40" width="20.42" height="11.25" fill="#ffffff"/><rect x="927.20" y="63.65" width="20.42" height="11.25" fill="#ffffff"/><rect x="947.62" y="63.65" width="20.42" height="11.25" fill="#e8edf4"/><rect x="968.04" y="63.65" width="20.42" height="11.25" fill="#ffffff"/><rect x="988.46" y="63.65" width="20.42" height="11.25" fill="#ffffff"/><rect x="1008.88" y="63.65" width="20.42" height="11.25" fill="#d2dbe8"/><rect x="1029.30" y="63.65" width="20.42" height="11.25" fill="#ffffff"/><rect x="1049.72" y="63.65" width="20.42" height="11.25" fill="#e8edf4"/><rect x="1070.14" y="63.65" width="20.42" height="11.25" fill="#ffffff"/><rect x="1090.56" y="63.65" width="20.42" height="11.25" fill="#ffffff"/><rect x="1110.98" y="63.65" width="20.42" height="11.25" fill="#ffffff"/><rect x="1131.40" y="63.65" width="20.42" height="11.25" fill="#ffffff"/><rect x="1151.82" y="63.65" width="20.42" height="11.25" fill="#ffffff"/><rect x="1172.24" y="63.65" width="20.42" height="11.25" fill="#ffffff"/><rect x="1192.66" y="63.65" width="20.42" height="11.25" fill="#e8edf4"/><rect x="1213.08" y="63.65" width="20.42" height="11.25" fill="#ffffff"/><rect x="1233.50" y="63.65" width="20.42" height="11.25" fill="#ffffff"/><rect x="1253.92" y="63.65" width="20.42" height="11.25" fill="#e8edf4"/><rect x="1274.34" y="63.65" width="20.42" height="11.25" fill="#ffffff"/><rect x="927.20" y="74.90" width="20.42" height="11.25" fill="#ffffff"/><rect x="947.62" y="74.90" width="20.42" height="11.25" fill="#ffffff"/><rect x="968.04" y="74.90" width="20.42" height="11.25" fill="#ffffff"/><rect x="988.46" y="74.90" width="20.42" height="11.25" fill="#ffffff"/><rect x="1008.88" y="74.90" width="20.42" height="11.25" fill="#ffffff"/><rect x="1029.30" y="74.90" width="20.42" height="11.25" fill="#ffffff"/><rect x="1049.72" y="74.90" width="20.42" height="11.25" fill="#ffffff"/><rect x="1070.14" y="74.90" width="20.42" height="11.25" fill="#bbc9dd"/><rect x="1090.56" y="74.90" width="20.42" height="11.25" fill="#bbc9dd"/><rect x="1110.98" y="74.90" width="20.42" height="11.25" fill="#ffffff"/><rect x="1131.40" y="74.90" width="20.42" height="11.25" fill="#ffffff"/><rect x="1151.82" y="74.90" width="20.42" height="11.25" fill="#e8edf4"/><rect x="1172.24" y="74.90" width="20.42" height="11.25" fill="#ffffff"/><rect x="1192.66" y="74.90" width="20.42" height="11.25" fill="#ffffff"/><rect x="1213.08" y="74.90" width="20.42" height="11.25" fill="#bbc9dd"/><rect x="1233.50" y="74.90" width="20.42" height="11.25" fill="#bbc9dd"/><rect x="1253.92" y="74.90" width="20.42" height="11.25" fill="#ffffff"/><rect x="1274.34" y="74.90" width="20.42" height="11.25" fill="#bbc9dd"/><rect x="927.20" y="86.15" width="20.42" height="11.25" fill="#ffffff"/><rect x="947.62" y="86.15" width="20.42" height="11.25" fill="#ffffff"/><rect x="968.04" y="86.15" width="20.42" height="11.25" fill="#d2dbe8"/><rect x="988.46" y="86.15" width="20.42" height="11.25" fill="#ffffff"/><rect x="1008.88" y="86.15" width="20.42" height="11.25" fill="#e8edf4"/><rect x="1029.30" y="86.15" width="20.42" height="11.25" fill="#d2dbe8"/><rect x="1049.72" y="86.15" width="20.42" height="11.25" fill="#ffffff"/><rect x="1070.14" y="86.15" width="20.42" height="11.25" fill="#ffffff"/><rect x="1090.56" y="86.15" width="20.42" height="11.25" fill="#ffffff"/><rect x="1110.98" y="86.15" width="20.42" height="11.25" fill="#d2dbe8"/><rect x="1131.40" y="86.15" width="20.42" height="11.25" fill="#ffffff"/><rect x="1151.82" y="86.15" width="20.42" height="11.25" fill="#ffffff"/><rect x="1172.24" y="86.15" width="20.42" height="11.25" fill="#ffffff"/><rect x="1192.66" y="86.15" width="20.42" height="11.25" fill="#ffffff"/><rect x="1213.08" y="86.15" width="20.42" height="11.25" fill="#ffffff"/><rect x="1233.50" y="86.15" width="20.42" height="11.25" fill="#ffffff"/><rect x="1253.92" y="86.15" width="20.42" height="11.25" fill="#ffffff"/><rect x="1274.34" y="86.15" width="20.42" height="11.25" fill="#ffffff"/><rect x="927.20" y="97.40" width="20.42" height="11.25" fill="#ffffff"/><rect x="947.62" y="97.40" width="20.42" height="11.25" fill="#ffffff"/><rect x="968.04" y="97.40" width="20.42" height="11.25" fill="#d2dbe8"/><rect x="988.46" y="97.40" width="20.42" height="11.25" fill="#ffffff"/><rect x="1008.88" y="97.40" width="20.42" height="11.25" fill="#d2dbe8"/><rect x="1029.30" y="97.40" width="20.42" height="11.25" fill="#d2dbe8"/><rect x="1049.72" y="97.40" width="20.42" height="11.25" fill="#ffffff"/><rect x="1070.14" y="97.40" width="20.42" height="11.25" fill="#bbc9dd"/><rect x="1090.56" y="97.40" width="20.42" height="11.25" fill="#ffffff"/><rect x="1110.98" y="97.40" width="20.42" height="11.25" fill="#bbc9dd"/><rect x="1131.40" y="97.40" width="20.42" height="11.25" fill="#e8edf4"/><rect x="1151.82" y="97.40" width="20.42" height="11.25" fill="#e8edf4"/><rect x="1172.24" y="97.40" width="20.42" height="11.25" fill="#e8edf4"/><rect x="1192.66" y="97.40" width="20.42" height="11.25" fill="#e8edf4"/><rect x="1213.08" y="97.40" width="20.42" height="11.25" fill="#ffffff"/><rect x="1233.50" y="97.40" width="20.42" height="11.25" fill="#ffffff"/><rect x="1253.92" y="97.40" width="20.42" height="11.25" fill="#ffffff"/><rect x="1274.34" y="97.40" width="20.42" height="11.25" fill="#ffffff"/><rect x="927.20" y="108.65" width="20.42" height="11.25" fill="#e8edf4"/><rect x="947.62" y="108.65" width="20.42" height="11.25" fill="#e8edf4"/><rect x="968.04" y="108.65" width="20.42" height="11.25" fill="#ffffff"/><rect x="988.46" y="108.65" width="20.42" height="11.25" fill="#e8edf4"/><rect x="1008.88" y="108.65" width="20.42" height="11.25" fill="#e8edf4"/><rect x="1029.30" y="108.65" width="20.42" height="11.25" fill="#ffffff"/><rect x="1049.72" y="108.65" width="20.42" height="11.25" fill="#e8edf4"/><rect x="1070.14" y="108.65" width="20.42" height="11.25" fill="#e8edf4"/><rect x="1090.56" y="108.65" width="20.42" height="11.25" fill="#d2dbe8"/><rect x="1110.98" y="108.65" width="20.42" height="11.25" fill="#e8edf4"/><rect x="1131.40" y="108.65" width="20.42" height="11.25" fill="#e8edf4"/><rect x="1151.82" y="108.65" width="20.42" height="11.25" fill="#e8edf4"/><rect x="1172.24" y="108.65" width="20.42" height="11.25" fill="#ffffff"/><rect x="1192.66" y="108.65" width="20.42" height="11.25" fill="#e8edf4"/><rect x="1213.08" y="108.65" width="20.42" height="11.25" fill="#d2dbe8"/><rect x="1233.50" y="108.65" width="20.42" height="11.25" fill="#d2dbe8"/><rect x="1253.92" y="108.65" width="20.42" height="11.25" fill="#e8edf4"/><rect x="1274.34" y="108.65" width="20.42" height="11.25" fill="#d2dbe8"/><rect x="927.20" y="119.90" width="20.42" height="11.25" fill="#ffffff"/><rect x="947.62" y="119.90" width="20.42" height="11.25" fill="#ffffff"/><rect x="968.04" y="119.90" width="20.42" height="11.25" fill="#d2dbe8"/><rect x="988.46" y="119.90" width="20.42" height="11.25" fill="#ffffff"/><rect x="1008.88" y="119.90" width="20.42" height="11.25" fill="#e8edf4"/><rect x="1029.30" y="119.90" width="20.42" height="11.25" fill="#e8edf4"/><rect x="1049.72" y="119.90" width="20.42" height="11.25" fill="#ffffff"/><rect x="1070.14" y="119.90" width="20.42" height="11.25" fill="#ffffff"/><rect x="1090.56" y="119.90" width="20.42" height="11.25" fill="#ffffff"/><rect x="1110.98" y="119.90" width="20.42" height="11.25" fill="#e8edf4"/><rect x="1131.40" y="119.90" width="20.42" height="11.25" fill="#d2dbe8"/><rect x="1151.82" y="119.90" width="20.42" height="11.25" fill="#d2dbe8"/><rect x="1172.24" y="119.90" width="20.42" height="11.25" fill="#e8edf4"/><rect x="1192.66" y="119.90" width="20.42" height="11.25" fill="#ffffff"/><rect x="1213.08" y="119.90" width="20.42" height="11.25" fill="#ffffff"/><rect x="1233.50" y="119.90" width="20.42" height="11.25" fill="#ffffff"/><rect x="1253.92" y="119.90" width="20.42" height="11.25" fill="#ffffff"/><rect x="1274.34" y="119.90" width="20.42" height="11.25" fill="#ffffff"/><rect x="927.20" y="134.50" width="20.42" height="11.25" fill="#ffffff"/><rect x="947.62" y="134.50" width="20.42" height="11.25" fill="#ffffff"/><rect x="968.04" y="134.50" width="20.42" height="11.25" fill="#ffffff"/><rect x="988.46" y="134.50" width="20.42" height="11.25" fill="#ffffff"/><rect x="1008.88" y="134.50" width="20.42" height="11.25" fill="#ffffff"/><rect x="1029.30" y="134.50" width="20.42" height="11.25" fill="#ffffff"/><rect x="1049.72" y="134.50" width="20.42" height="11.25" fill="#ffffff"/><rect x="1070.14" y="134.50" width="20.42" height="11.25" fill="#ffffff"/><rect x="1090.56" y="134.50" width="20.42" height="11.25" fill="#ffffff"/><rect x="1110.98" y="134.50" width="20.42" height="11.25" fill="#e8edf4"/><rect x="1131.40" y="134.50" width="20.42" height="11.25" fill="#e8edf4"/><rect x="1151.82" y="134.50" width="20.42" height="11.25" fill="#ffffff"/><rect x="1172.24" y="134.50" width="20.42" height="11.25" fill="#ffffff"/><rect x="1192.66" y="134.50" width="20.42" height="11.25" fill="#ffffff"/><rect x="1213.08" y="134.50" width="20.42" height="11.25" fill="#ffffff"/><rect x="1233.50" y="134.50" width="20.42" height="11.25" fill="#ffffff"/><rect x="1253.92" y="134.50" width="20.42" height="11.25" fill="#ffffff"/><rect x="1274.34" y="134.50" width="20.42" height="11.25" fill="#ffffff"/><rect x="927.20" y="145.75" width="20.42" height="11.25" fill="#ffffff"/><rect x="947.62" y="145.75" width="20.42" height="11.25" fill="#ffffff"/><rect x="968.04" y="145.75" width="20.42" height="11.25" fill="#e8edf4"/><rect x="988.46" y="145.75" width="20.42" height="11.25" fill="#ffffff"/><rect x="1008.88" y="145.75" width="20.42" height="11.25" fill="#e8edf4"/><rect x="1029.30" y="145.75" width="20.42" height="11.25" fill="#e8edf4"/><rect x="1049.72" y="145.75" width="20.42" height="11.25" fill="#ffffff"/><rect x="1070.14" y="145.75" width="20.42" height="11.25" fill="#ffffff"/><rect x="1090.56" y="145.75" width="20.42" height="11.25" fill="#ffffff"/><rect x="1110.98" y="145.75" width="20.42" height="11.25" fill="#e8edf4"/><rect x="1131.40" y="145.75" width="20.42" height="11.25" fill="#e8edf4"/><rect x="1151.82" y="145.75" width="20.42" height="11.25" fill="#e8edf4"/><rect x="1172.24" y="145.75" width="20.42" height="11.25" fill="#e8edf4"/><rect x="1192.66" y="145.75" width="20.42" height="11.25" fill="#ffffff"/><rect x="1213.08" y="145.75" width="20.42" height="11.25" fill="#ffffff"/><rect x="1233.50" y="145.75" width="20.42" height="11.25" fill="#ffffff"/><rect x="1253.92" y="145.75" width="20.42" height="11.25" fill="#ffffff"/><rect x="1274.34" y="145.75" width="20.42" height="11.25" fill="#ffffff"/><rect x="927.20" y="157.00" width="20.42" height="11.25" fill="#ffffff"/><rect x="947.62" y="157.00" width="20.42" height="11.25" fill="#ffffff"/><rect x="968.04" y="157.00" width="20.42" height="11.25" fill="#e8edf4"/><rect x="988.46" y="157.00" width="20.42" height="11.25" fill="#ffffff"/><rect x="1008.88" y="157.00" width="20.42" height="11.25" fill="#e8edf4"/><rect x="1029.30" y="157.00" width="20.42" height="11.25" fill="#e8edf4"/><rect x="1049.72" y="157.00" width="20.42" height="11.25" fill="#ffffff"/><rect x="1070.14" y="157.00" width="20.42" height="11.25" fill="#ffffff"/><rect x="1090.56" y="157.00" width="20.42" height="11.25" fill="#ffffff"/><rect x="1110.98" y="157.00" width="20.42" height="11.25" fill="#e8edf4"/><rect x="1131.40" y="157.00" width="20.42" height="11.25" fill="#d2dbe8"/><rect x="1151.82" y="157.00" width="20.42" height="11.25" fill="#d2dbe8"/><rect x="1172.24" y="157.00" width="20.42" height="11.25" fill="#d2dbe8"/><rect x="1192.66" y="157.00" width="20.42" height="11.25" fill="#ffffff"/><rect x="1213.08" y="157.00" width="20.42" height="11.25" fill="#e8edf4"/><rect x="1233.50" y="157.00" width="20.42" height="11.25" fill="#e8edf4"/><rect x="1253.92" y="157.00" width="20.42" height="11.25" fill="#ffffff"/><rect x="1274.34" y="157.00" width="20.42" height="11.25" fill="#d2dbe8"/><rect x="927.20" y="168.25" width="20.42" height="11.25" fill="#ffffff"/><rect x="947.62" y="168.25" width="20.42" height="11.25" fill="#ffffff"/><rect x="968.04" y="168.25" width="20.42" height="11.25" fill="#ffffff"/><rect x="988.46" y="168.25" width="20.42" height="11.25" fill="#ffffff"/><rect x="1008.88" y="168.25" width="20.42" height="11.25" fill="#ffffff"/><rect x="1029.30" y="168.25" width="20.42" height="11.25" fill="#ffffff"/><rect x="1049.72" y="168.25" width="20.42" height="11.25" fill="#ffffff"/><rect x="1070.14" y="168.25" width="20.42" height="11.25" fill="#ffffff"/><rect x="1090.56" y="168.25" width="20.42" height="11.25" fill="#ffffff"/><rect x="1110.98" y="168.25" width="20.42" height="11.25" fill="#ffffff"/><rect x="1131.40" y="168.25" width="20.42" height="11.25" fill="#ffffff"/><rect x="1151.82" y="168.25" width="20.42" height="11.25" fill="#e8edf4"/><rect x="1172.24" y="168.25" width="20.42" height="11.25" fill="#ffffff"/><rect x="1192.66" y="168.25" width="20.42" height="11.25" fill="#ffffff"/><rect x="1213.08" y="168.25" width="20.42" height="11.25" fill="#ffffff"/><rect x="1233.50" y="168.25" width="20.42" height="11.25" fill="#ffffff"/><rect x="1253.92" y="168.25" width="20.42" height="11.25" fill="#ffffff"/><rect x="1274.34" y="168.25" width="20.42" height="11.25" fill="#ffffff"/><rect x="927.20" y="179.50" width="20.42" height="11.25" fill="#ffffff"/><rect x="947.62" y="179.50" width="20.42" height="11.25" fill="#ffffff"/><rect x="968.04" y="179.50" width="20.42" height="11.25" fill="#e8edf4"/><rect x="988.46" y="179.50" width="20.42" height="11.25" fill="#ffffff"/><rect x="1008.88" y="179.50" width="20.42" height="11.25" fill="#e8edf4"/><rect x="1029.30" y="179.50" width="20.42" height="11.25" fill="#e8edf4"/><rect x="1049.72" y="179.50" width="20.42" height="11.25" fill="#ffffff"/><rect x="1070.14" y="179.50" width="20.42" height="11.25" fill="#ffffff"/><rect x="1090.56" y="179.50" width="20.42" height="11.25" fill="#ffffff"/><rect x="1110.98" y="179.50" width="20.42" height="11.25" fill="#e8edf4"/><rect x="1131.40" y="179.50" width="20.42" height="11.25" fill="#ffffff"/><rect x="1151.82" y="179.50" width="20.42" height="11.25" fill="#ffffff"/><rect x="1172.24" y="179.50" width="20.42" height="11.25" fill="#ffffff"/><rect x="1192.66" y="179.50" width="20.42" height="11.25" fill="#ffffff"/><rect x="1213.08" y="179.50" width="20.42" height="11.25" fill="#ffffff"/><rect x="1233.50" y="179.50" width="20.42" height="11.25" fill="#ffffff"/><rect x="1253.92" y="179.50" width="20.42" height="11.25" fill="#ffffff"/><rect x="1274.34" y="179.50" width="20.42" height="11.25" fill="#ffffff"/><rect x="927.20" y="190.75" width="20.42" height="11.25" fill="#ffffff"/><rect x="947.62" y="190.75" width="20.42" height="11.25" fill="#ffffff"/><rect x="968.04" y="190.75" width="20.42" height="11.25" fill="#e8edf4"/><rect x="988.46" y="190.75" width="20.42" height="11.25" fill="#ffffff"/><rect x="1008.88" y="190.75" width="20.42" height="11.25" fill="#e8edf4"/><rect x="1029.30" y="190.75" width="20.42" height="11.25" fill="#e8edf4"/><rect x="1049.72" y="190.75" width="20.42" height="11.25" fill="#ffffff"/><rect x="1070.14" y="190.75" width="20.42" height="11.25" fill="#ffffff"/><rect x="1090.56" y="190.75" width="20.42" height="11.25" fill="#e8edf4"/><rect x="1110.98" y="190.75" width="20.42" height="11.25" fill="#e8edf4"/><rect x="1131.40" y="190.75" width="20.42" height="11.25" fill="#d2dbe8"/><rect x="1151.82" y="190.75" width="20.42" height="11.25" fill="#6181b0"/><rect x="1172.24" y="190.75" width="20.42" height="11.25" fill="#4a6fa5"/><rect x="1192.66" y="190.75" width="20.42" height="11.25" fill="#ffffff"/><rect x="1213.08" y="190.75" width="20.42" height="11.25" fill="#e8edf4"/><rect x="1233.50" y="190.75" width="20.42" height="11.25" fill="#ffffff"/><rect x="1253.92" y="190.75" width="20.42" height="11.25" fill="#ffffff"/><rect x="1274.34" y="190.75" width="20.42" height="11.25" fill="#e8edf4"/><rect x="927.20" y="202.00" width="20.42" height="11.25" fill="#ffffff"/><rect x="947.62" y="202.00" width="20.42" height="11.25" fill="#ffffff"/><rect x="968.04" y="202.00" width="20.42" height="11.25" fill="#ffffff"/><rect x="988.46" y="202.00" width="20.42" height="11.25" fill="#ffffff"/><rect x="1008.88" y="202.00" width="20.42" height="11.25" fill="#ffffff"/><rect x="1029.30" y="202.00" width="20.42" height="11.25" fill="#ffffff"/><rect x="1049.72" y="202.00" width="20.42" height="11.25" fill="#ffffff"/><rect x="1070.14" y="202.00" width="20.42" height="11.25" fill="#e8edf4"/><rect x="1090.56" y="202.00" width="20.42" height="11.25" fill="#e8edf4"/><rect x="1110.98" y="202.00" width="20.42" height="11.25" fill="#ffffff"/><rect x="1131.40" y="202.00" width="20.42" height="11.25" fill="#ffffff"/><rect x="1151.82" y="202.00" width="20.42" height="11.25" fill="#ffffff"/><rect x="1172.24" y="202.00" width="20.42" height="11.25" fill="#ffffff"/><rect x="1192.66" y="202.00" width="20.42" height="11.25" fill="#ffffff"/><rect x="1213.08" y="202.00" width="20.42" height="11.25" fill="#e8edf4"/><rect x="1233.50" y="202.00" width="20.42" height="11.25" fill="#d2dbe8"/><rect x="1253.92" y="202.00" width="20.42" height="11.25" fill="#ffffff"/><rect x="1274.34" y="202.00" width="20.42" height="11.25" fill="#e8edf4"/><rect x="927.20" y="213.25" width="20.42" height="11.25" fill="#ffffff"/><rect x="947.62" y="213.25" width="20.42" height="11.25" fill="#e8edf4"/><rect x="968.04" y="213.25" width="20.42" height="11.25" fill="#e8edf4"/><rect x="988.46" y="213.25" width="20.42" height="11.25" fill="#ffffff"/><rect x="1008.88" y="213.25" width="20.42" height="11.25" fill="#e8edf4"/><rect x="1029.30" y="213.25" width="20.42" height="11.25" fill="#e8edf4"/><rect x="1049.72" y="213.25" width="20.42" height="11.25" fill="#e8edf4"/><rect x="1070.14" y="213.25" width="20.42" height="11.25" fill="#ffffff"/><rect x="1090.56" y="213.25" width="20.42" height="11.25" fill="#d2dbe8"/><rect x="1110.98" y="213.25" width="20.42" height="11.25" fill="#ffffff"/><rect x="1131.40" y="213.25" width="20.42" height="11.25" fill="#d2dbe8"/><rect x="1151.82" y="213.25" width="20.42" height="11.25" fill="#ffffff"/><rect x="1172.24" y="213.25" width="20.42" height="11.25" fill="#ffffff"/><rect x="1192.66" y="213.25" width="20.42" height="11.25" fill="#ffffff"/><rect x="1213.08" y="213.25" width="20.42" height="11.25" fill="#e8edf4"/><rect x="1233.50" y="213.25" width="20.42" height="11.25" fill="#d2dbe8"/><rect x="1253.92" y="213.25" width="20.42" height="11.25" fill="#e8edf4"/><rect x="1274.34" y="213.25" width="20.42" height="11.25" fill="#ffffff"/><rect x="927.20" y="224.50" width="20.42" height="11.25" fill="#ffffff"/><rect x="947.62" y="224.50" width="20.42" height="11.25" fill="#e8edf4"/><rect x="968.04" y="224.50" width="20.42" height="11.25" fill="#ffffff"/><rect x="988.46" y="224.50" width="20.42" height="11.25" fill="#e8edf4"/><rect x="1008.88" y="224.50" width="20.42" height="11.25" fill="#ffffff"/><rect x="1029.30" y="224.50" width="20.42" height="11.25" fill="#ffffff"/><rect x="1049.72" y="224.50" width="20.42" height="11.25" fill="#e8edf4"/><rect x="1070.14" y="224.50" width="20.42" height="11.25" fill="#ffffff"/><rect x="1090.56" y="224.50" width="20.42" height="11.25" fill="#e8edf4"/><rect x="1110.98" y="224.50" width="20.42" height="11.25" fill="#ffffff"/><rect x="1131.40" y="224.50" width="20.42" height="11.25" fill="#e8edf4"/><rect x="1151.82" y="224.50" width="20.42" height="11.25" fill="#ffffff"/><rect x="1172.24" y="224.50" width="20.42" height="11.25" fill="#ffffff"/><rect x="1192.66" y="224.50" width="20.42" height="11.25" fill="#e8edf4"/><rect x="1213.08" y="224.50" width="20.42" height="11.25" fill="#e8edf4"/><rect x="1233.50" y="224.50" width="20.42" height="11.25" fill="#e8edf4"/><rect x="1253.92" y="224.50" width="20.42" height="11.25" fill="#e8edf4"/><rect x="1274.34" y="224.50" width="20.42" height="11.25" fill="#e8edf4"/><rect x="927.20" y="239.40" width="20.42" height="11.25" fill="#ffffff"/><rect x="947.62" y="239.40" width="20.42" height="11.25" fill="#ffffff"/><rect x="968.04" y="239.40" width="20.42" height="11.25" fill="#ffffff"/><rect x="988.46" y="239.40" width="20.42" height="11.25" fill="#ffffff"/><rect x="1008.88" y="239.40" width="20.42" height="11.25" fill="#bbc9dd"/><rect x="1029.30" y="239.40" width="20.42" height="11.25" fill="#ffffff"/><rect x="1049.72" y="239.40" width="20.42" height="11.25" fill="#ffffff"/><rect x="1070.14" y="239.40" width="20.42" height="11.25" fill="#ffffff"/><rect x="1090.56" y="239.40" width="20.42" height="11.25" fill="#d2dbe8"/><rect x="1110.98" y="239.40" width="20.42" height="11.25" fill="#e8edf4"/><rect x="1131.40" y="239.40" width="20.42" height="11.25" fill="#e8edf4"/><rect x="1151.82" y="239.40" width="20.42" height="11.25" fill="#ffffff"/><rect x="1172.24" y="239.40" width="20.42" height="11.25" fill="#ffffff"/><rect x="1192.66" y="239.40" width="20.42" height="11.25" fill="#ffffff"/><rect x="1213.08" y="239.40" width="20.42" height="11.25" fill="#ffffff"/><rect x="1233.50" y="239.40" width="20.42" height="11.25" fill="#ffffff"/><rect x="1253.92" y="239.40" width="20.42" height="11.25" fill="#ffffff"/><rect x="1274.34" y="239.40" width="20.42" height="11.25" fill="#d2dbe8"/><rect x="927.20" y="250.65" width="20.42" height="11.25" fill="#ffffff"/><rect x="947.62" y="250.65" width="20.42" height="11.25" fill="#d2dbe8"/><rect x="968.04" y="250.65" width="20.42" height="11.25" fill="#8ea5c7"/><rect x="988.46" y="250.65" width="20.42" height="11.25" fill="#ffffff"/><rect x="1008.88" y="250.65" width="20.42" height="11.25" fill="#d2dbe8"/><rect x="1029.30" y="250.65" width="20.42" height="11.25" fill="#8ea5c7"/><rect x="1049.72" y="250.65" width="20.42" height="11.25" fill="#e8edf4"/><rect x="1070.14" y="250.65" width="20.42" height="11.25" fill="#ffffff"/><rect x="1090.56" y="250.65" width="20.42" height="11.25" fill="#e8edf4"/><rect x="1110.98" y="250.65" width="20.42" height="11.25" fill="#bbc9dd"/><rect x="1131.40" y="250.65" width="20.42" height="11.25" fill="#e8edf4"/><rect x="1151.82" y="250.65" width="20.42" height="11.25" fill="#ffffff"/><rect x="1172.24" y="250.65" width="20.42" height="11.25" fill="#ffffff"/><rect x="1192.66" y="250.65" width="20.42" height="11.25" fill="#ffffff"/><rect x="1213.08" y="250.65" width="20.42" height="11.25" fill="#e8edf4"/><rect x="1233.50" y="250.65" width="20.42" height="11.25" fill="#d2dbe8"/><rect x="1253.92" y="250.65" width="20.42" height="11.25" fill="#ffffff"/><rect x="1274.34" y="250.65" width="20.42" height="11.25" fill="#e8edf4"/><rect x="927.20" y="261.90" width="20.42" height="11.25" fill="#ffffff"/><rect x="947.62" y="261.90" width="20.42" height="11.25" fill="#e8edf4"/><rect x="968.04" y="261.90" width="20.42" height="11.25" fill="#e8edf4"/><rect x="988.46" y="261.90" width="20.42" height="11.25" fill="#d2dbe8"/><rect x="1008.88" y="261.90" width="20.42" height="11.25" fill="#bbc9dd"/><rect x="1029.30" y="261.90" width="20.42" height="11.25" fill="#e8edf4"/><rect x="1049.72" y="261.90" width="20.42" height="11.25" fill="#e8edf4"/><rect x="1070.14" y="261.90" width="20.42" height="11.25" fill="#e8edf4"/><rect x="1090.56" y="261.90" width="20.42" height="11.25" fill="#e8edf4"/><rect x="1110.98" y="261.90" width="20.42" height="11.25" fill="#e8edf4"/><rect x="1131.40" y="261.90" width="20.42" height="11.25" fill="#e8edf4"/><rect x="1151.82" y="261.90" width="20.42" height="11.25" fill="#bbc9dd"/><rect x="1172.24" y="261.90" width="20.42" height="11.25" fill="#d2dbe8"/><rect x="1192.66" y="261.90" width="20.42" height="11.25" fill="#d2dbe8"/><rect x="1213.08" y="261.90" width="20.42" height="11.25" fill="#ffffff"/><rect x="1233.50" y="261.90" width="20.42" height="11.25" fill="#ffffff"/><rect x="1253.92" y="261.90" width="20.42" height="11.25" fill="#e8edf4"/><rect x="1274.34" y="261.90" width="20.42" height="11.25" fill="#e8edf4"/><rect x="927.20" y="276.40" width="20.42" height="11.25" fill="#ffffff"/><rect x="947.62" y="276.40" width="20.42" height="11.25" fill="#ffffff"/><rect x="968.04" y="276.40" width="20.42" height="11.25" fill="#ffffff"/><rect x="988.46" y="276.40" width="20.42" height="11.25" fill="#ffffff"/><rect x="1008.88" y="276.40" width="20.42" height="11.25" fill="#ffffff"/><rect x="1029.30" y="276.40" width="20.42" height="11.25" fill="#ffffff"/><rect x="1049.72" y="276.40" width="20.42" height="11.25" fill="#ffffff"/><rect x="1070.14" y="276.40" width="20.42" height="11.25" fill="#ffffff"/><rect x="1090.56" y="276.40" width="20.42" height="11.25" fill="#e8edf4"/><rect x="1110.98" y="276.40" width="20.42" height="11.25" fill="#ffffff"/><rect x="1131.40" y="276.40" width="20.42" height="11.25" fill="#ffffff"/><rect x="1151.82" y="276.40" width="20.42" height="11.25" fill="#ffffff"/><rect x="1172.24" y="276.40" width="20.42" height="11.25" fill="#ffffff"/><rect x="1192.66" y="276.40" width="20.42" height="11.25" fill="#ffffff"/><rect x="1213.08" y="276.40" width="20.42" height="11.25" fill="#e8edf4"/><rect x="1233.50" y="276.40" width="20.42" height="11.25" fill="#e8edf4"/><rect x="1253.92" y="276.40" width="20.42" height="11.25" fill="#ffffff"/><rect x="1274.34" y="276.40" width="20.42" height="11.25" fill="#e8edf4"/><rect x="927.20" y="287.65" width="20.42" height="11.25" fill="#ffffff"/><rect x="947.62" y="287.65" width="20.42" height="11.25" fill="#ffffff"/><rect x="968.04" y="287.65" width="20.42" height="11.25" fill="#ffffff"/><rect x="988.46" y="287.65" width="20.42" height="11.25" fill="#ffffff"/><rect x="1008.88" y="287.65" width="20.42" height="11.25" fill="#ffffff"/><rect x="1029.30" y="287.65" width="20.42" height="11.25" fill="#ffffff"/><rect x="1049.72" y="287.65" width="20.42" height="11.25" fill="#ffffff"/><rect x="1070.14" y="287.65" width="20.42" height="11.25" fill="#ffffff"/><rect x="1090.56" y="287.65" width="20.42" height="11.25" fill="#d2dbe8"/><rect x="1110.98" y="287.65" width="20.42" height="11.25" fill="#e8edf4"/><rect x="1131.40" y="287.65" width="20.42" height="11.25" fill="#ffffff"/><rect x="1151.82" y="287.65" width="20.42" height="11.25" fill="#ffffff"/><rect x="1172.24" y="287.65" width="20.42" height="11.25" fill="#ffffff"/><rect x="1192.66" y="287.65" width="20.42" height="11.25" fill="#ffffff"/><rect x="1213.08" y="287.65" width="20.42" height="11.25" fill="#d2dbe8"/><rect x="1233.50" y="287.65" width="20.42" height="11.25" fill="#d2dbe8"/><rect x="1253.92" y="287.65" width="20.42" height="11.25" fill="#ffffff"/><rect x="1274.34" y="287.65" width="20.42" height="11.25" fill="#d2dbe8"/><rect x="927.20" y="298.90" width="20.42" height="11.25" fill="#ffffff"/><rect x="947.62" y="298.90" width="20.42" height="11.25" fill="#ffffff"/><rect x="968.04" y="298.90" width="20.42" height="11.25" fill="#ffffff"/><rect x="988.46" y="298.90" width="20.42" height="11.25" fill="#ffffff"/><rect x="1008.88" y="298.90" width="20.42" height="11.25" fill="#ffffff"/><rect x="1029.30" y="298.90" width="20.42" height="11.25" fill="#ffffff"/><rect x="1049.72" y="298.90" width="20.42" height="11.25" fill="#ffffff"/><rect x="1070.14" y="298.90" width="20.42" height="11.25" fill="#ffffff"/><rect x="1090.56" y="298.90" width="20.42" height="11.25" fill="#d2dbe8"/><rect x="1110.98" y="298.90" width="20.42" height="11.25" fill="#ffffff"/><rect x="1131.40" y="298.90" width="20.42" height="11.25" fill="#ffffff"/><rect x="1151.82" y="298.90" width="20.42" height="11.25" fill="#ffffff"/><rect x="1172.24" y="298.90" width="20.42" height="11.25" fill="#ffffff"/><rect x="1192.66" y="298.90" width="20.42" height="11.25" fill="#ffffff"/><rect x="1213.08" y="298.90" width="20.42" height="11.25" fill="#d2dbe8"/><rect x="1233.50" y="298.90" width="20.42" height="11.25" fill="#d2dbe8"/><rect x="1253.92" y="298.90" width="20.42" height="11.25" fill="#ffffff"/><rect x="1274.34" y="298.90" width="20.42" height="11.25" fill="#d2dbe8"/><rect x="927.20" y="310.15" width="20.42" height="11.25" fill="#e8edf4"/><rect x="947.62" y="310.15" width="20.42" height="11.25" fill="#e8edf4"/><rect x="968.04" y="310.15" width="20.42" height="11.25" fill="#e8edf4"/><rect x="988.46" y="310.15" width="20.42" height="11.25" fill="#ffffff"/><rect x="1008.88" y="310.15" width="20.42" height="11.25" fill="#e8edf4"/><rect x="1029.30" y="310.15" width="20.42" height="11.25" fill="#ffffff"/><rect x="1049.72" y="310.15" width="20.42" height="11.25" fill="#e8edf4"/><rect x="1070.14" y="310.15" width="20.42" height="11.25" fill="#d2dbe8"/><rect x="1090.56" y="310.15" width="20.42" height="11.25" fill="#e8edf4"/><rect x="1110.98" y="310.15" width="20.42" height="11.25" fill="#e8edf4"/><rect x="1131.40" y="310.15" width="20.42" height="11.25" fill="#e8edf4"/><rect x="1151.82" y="310.15" width="20.42" height="11.25" fill="#e8edf4"/><rect x="1172.24" y="310.15" width="20.42" height="11.25" fill="#e8edf4"/><rect x="1192.66" y="310.15" width="20.42" height="11.25" fill="#d2dbe8"/><rect x="1213.08" y="310.15" width="20.42" height="11.25" fill="#e8edf4"/><rect x="1233.50" y="310.15" width="20.42" height="11.25" fill="#e8edf4"/><rect x="1253.92" y="310.15" width="20.42" height="11.25" fill="#e8edf4"/><rect x="1274.34" y="310.15" width="20.42" height="11.25" fill="#e8edf4"/><rect x="927.20" y="321.40" width="20.42" height="11.25" fill="#ffffff"/><rect x="947.62" y="321.40" width="20.42" height="11.25" fill="#e8edf4"/><rect x="968.04" y="321.40" width="20.42" height="11.25" fill="#e8edf4"/><rect x="988.46" y="321.40" width="20.42" height="11.25" fill="#ffffff"/><rect x="1008.88" y="321.40" width="20.42" height="11.25" fill="#e8edf4"/><rect x="1029.30" y="321.40" width="20.42" height="11.25" fill="#e8edf4"/><rect x="1049.72" y="321.40" width="20.42" height="11.25" fill="#e8edf4"/><rect x="1070.14" y="321.40" width="20.42" height="11.25" fill="#ffffff"/><rect x="1090.56" y="321.40" width="20.42" height="11.25" fill="#e8edf4"/><rect x="1110.98" y="321.40" width="20.42" height="11.25" fill="#e8edf4"/><rect x="1131.40" y="321.40" width="20.42" height="11.25" fill="#e8edf4"/><rect x="1151.82" y="321.40" width="20.42" height="11.25" fill="#e8edf4"/><rect x="1172.24" y="321.40" width="20.42" height="11.25" fill="#e8edf4"/><rect x="1192.66" y="321.40" width="20.42" height="11.25" fill="#ffffff"/><rect x="1213.08" y="321.40" width="20.42" height="11.25" fill="#ffffff"/><rect x="1233.50" y="321.40" width="20.42" height="11.25" fill="#e8edf4"/><rect x="1253.92" y="321.40" width="20.42" height="11.25" fill="#ffffff"/><rect x="1274.34" y="321.40" width="20.42" height="11.25" fill="#ffffff"/><rect x="927.20" y="332.65" width="20.42" height="11.25" fill="#ffffff"/><rect x="947.62" y="332.65" width="20.42" height="11.25" fill="#d2dbe8"/><rect x="968.04" y="332.65" width="20.42" height="11.25" fill="#e8edf4"/><rect x="988.46" y="332.65" width="20.42" height="11.25" fill="#d2dbe8"/><rect x="1008.88" y="332.65" width="20.42" height="11.25" fill="#e8edf4"/><rect x="1029.30" y="332.65" width="20.42" height="11.25" fill="#e8edf4"/><rect x="1049.72" y="332.65" width="20.42" height="11.25" fill="#bbc9dd"/><rect x="1070.14" y="332.65" width="20.42" height="11.25" fill="#e8edf4"/><rect x="1090.56" y="332.65" width="20.42" height="11.25" fill="#e8edf4"/><rect x="1110.98" y="332.65" width="20.42" height="11.25" fill="#e8edf4"/><rect x="1131.40" y="332.65" width="20.42" height="11.25" fill="#e8edf4"/><rect x="1151.82" y="332.65" width="20.42" height="11.25" fill="#e8edf4"/><rect x="1172.24" y="332.65" width="20.42" height="11.25" fill="#e8edf4"/><rect x="1192.66" y="332.65" width="20.42" height="11.25" fill="#e8edf4"/><rect x="1213.08" y="332.65" width="20.42" height="11.25" fill="#ffffff"/><rect x="1233.50" y="332.65" width="20.42" height="11.25" fill="#ffffff"/><rect x="1253.92" y="332.65" width="20.42" height="11.25" fill="#ffffff"/><rect x="1274.34" y="332.65" width="20.42" height="11.25" fill="#e8edf4"/><rect x="927.20" y="343.90" width="20.42" height="11.25" fill="#ffffff"/><rect x="947.62" y="343.90" width="20.42" height="11.25" fill="#d2dbe8"/><rect x="968.04" y="343.90" width="20.42" height="11.25" fill="#e8edf4"/><rect x="988.46" y="343.90" width="20.42" height="11.25" fill="#ffffff"/><rect x="1008.88" y="343.90" width="20.42" height="11.25" fill="#e8edf4"/><rect x="1029.30" y="343.90" width="20.42" height="11.25" fill="#e8edf4"/><rect x="1049.72" y="343.90" width="20.42" height="11.25" fill="#d2dbe8"/><rect x="1070.14" y="343.90" width="20.42" height="11.25" fill="#ffffff"/><rect x="1090.56" y="343.90" width="20.42" height="11.25" fill="#e8edf4"/><rect x="1110.98" y="343.90" width="20.42" height="11.25" fill="#e8edf4"/><rect x="1131.40" y="343.90" width="20.42" height="11.25" fill="#e8edf4"/><rect x="1151.82" y="343.90" width="20.42" height="11.25" fill="#ffffff"/><rect x="1172.24" y="343.90" width="20.42" height="11.25" fill="#e8edf4"/><rect x="1192.66" y="343.90" width="20.42" height="11.25" fill="#ffffff"/><rect x="1213.08" y="343.90" width="20.42" height="11.25" fill="#e8edf4"/><rect x="1233.50" y="343.90" width="20.42" height="11.25" fill="#e8edf4"/><rect x="1253.92" y="343.90" width="20.42" height="11.25" fill="#e8edf4"/><rect x="1274.34" y="343.90" width="20.42" height="11.25" fill="#e8edf4"/><rect x="927.20" y="355.15" width="20.42" height="11.25" fill="#ffffff"/><rect x="947.62" y="355.15" width="20.42" height="11.25" fill="#ffffff"/><rect x="968.04" y="355.15" width="20.42" height="11.25" fill="#e8edf4"/><rect x="988.46" y="355.15" width="20.42" height="11.25" fill="#ffffff"/><rect x="1008.88" y="355.15" width="20.42" height="11.25" fill="#d2dbe8"/><rect x="1029.30" y="355.15" width="20.42" height="11.25" fill="#e8edf4"/><rect x="1049.72" y="355.15" width="20.42" height="11.25" fill="#ffffff"/><rect x="1070.14" y="355.15" width="20.42" height="11.25" fill="#d2dbe8"/><rect x="1090.56" y="355.15" width="20.42" height="11.25" fill="#d2dbe8"/><rect x="1110.98" y="355.15" width="20.42" height="11.25" fill="#a4b7d2"/><rect x="1131.40" y="355.15" width="20.42" height="11.25" fill="#e8edf4"/><rect x="1151.82" y="355.15" width="20.42" height="11.25" fill="#ffffff"/><rect x="1172.24" y="355.15" width="20.42" height="11.25" fill="#e8edf4"/><rect x="1192.66" y="355.15" width="20.42" height="11.25" fill="#e8edf4"/><rect x="1213.08" y="355.15" width="20.42" height="11.25" fill="#e8edf4"/><rect x="1233.50" y="355.15" width="20.42" height="11.25" fill="#d2dbe8"/><rect x="1253.92" y="355.15" width="20.42" height="11.25" fill="#ffffff"/><rect x="1274.34" y="355.15" width="20.42" height="11.25" fill="#e8edf4"/><rect x="927.20" y="366.40" width="20.42" height="11.25" fill="#ffffff"/><rect x="947.62" y="366.40" width="20.42" height="11.25" fill="#ffffff"/><rect x="968.04" y="366.40" width="20.42" height="11.25" fill="#ffffff"/><rect x="988.46" y="366.40" width="20.42" height="11.25" fill="#ffffff"/><rect x="1008.88" y="366.40" width="20.42" height="11.25" fill="#ffffff"/><rect x="1029.30" y="366.40" width="20.42" height="11.25" fill="#ffffff"/><rect x="1049.72" y="366.40" width="20.42" height="11.25" fill="#ffffff"/><rect x="1070.14" y="366.40" width="20.42" height="11.25" fill="#ffffff"/><rect x="1090.56" y="366.40" width="20.42" height="11.25" fill="#d2dbe8"/><rect x="1110.98" y="366.40" width="20.42" height="11.25" fill="#ffffff"/><rect x="1131.40" y="366.40" width="20.42" height="11.25" fill="#ffffff"/><rect x="1151.82" y="366.40" width="20.42" height="11.25" fill="#ffffff"/><rect x="1172.24" y="366.40" width="20.42" height="11.25" fill="#ffffff"/><rect x="1192.66" y="366.40" width="20.42" height="11.25" fill="#ffffff"/><rect x="1213.08" y="366.40" width="20.42" height="11.25" fill="#d2dbe8"/><rect x="1233.50" y="366.40" width="20.42" height="11.25" fill="#e8edf4"/><rect x="1253.92" y="366.40" width="20.42" height="11.25" fill="#ffffff"/><rect x="1274.34" y="366.40" width="20.42" height="11.25" fill="#d2dbe8"/><rect x="927.20" y="377.65" width="20.42" height="11.25" fill="#ffffff"/><rect x="947.62" y="377.65" width="20.42" height="11.25" fill="#ffffff"/><rect x="968.04" y="377.65" width="20.42" height="11.25" fill="#ffffff"/><rect x="988.46" y="377.65" width="20.42" height="11.25" fill="#ffffff"/><rect x="1008.88" y="377.65" width="20.42" height="11.25" fill="#ffffff"/><rect x="1029.30" y="377.65" width="20.42" height="11.25" fill="#ffffff"/><rect x="1049.72" y="377.65" width="20.42" height="11.25" fill="#ffffff"/><rect x="1070.14" y="377.65" width="20.42" height="11.25" fill="#ffffff"/><rect x="1090.56" y="377.65" width="20.42" height="11.25" fill="#e8edf4"/><rect x="1110.98" y="377.65" width="20.42" height="11.25" fill="#ffffff"/><rect x="1131.40" y="377.65" width="20.42" height="11.25" fill="#ffffff"/><rect x="1151.82" y="377.65" width="20.42" height="11.25" fill="#ffffff"/><rect x="1172.24" y="377.65" width="20.42" height="11.25" fill="#ffffff"/><rect x="1192.66" y="377.65" width="20.42" height="11.25" fill="#ffffff"/><rect x="1213.08" y="377.65" width="20.42" height="11.25" fill="#bbc9dd"/><rect x="1233.50" y="377.65" width="20.42" height="11.25" fill="#e8edf4"/><rect x="1253.92" y="377.65" width="20.42" height="11.25" fill="#ffffff"/><rect x="1274.34" y="377.65" width="20.42" height="11.25" fill="#d2dbe8"/><rect x="927.20" y="388.90" width="20.42" height="11.25" fill="#ffffff"/><rect x="947.62" y="388.90" width="20.42" height="11.25" fill="#ffffff"/><rect x="968.04" y="388.90" width="20.42" height="11.25" fill="#ffffff"/><rect x="988.46" y="388.90" width="20.42" height="11.25" fill="#ffffff"/><rect x="1008.88" y="388.90" width="20.42" height="11.25" fill="#ffffff"/><rect x="1029.30" y="388.90" width="20.42" height="11.25" fill="#ffffff"/><rect x="1049.72" y="388.90" width="20.42" height="11.25" fill="#ffffff"/><rect x="1070.14" y="388.90" width="20.42" height="11.25" fill="#ffffff"/><rect x="1090.56" y="388.90" width="20.42" height="11.25" fill="#d2dbe8"/><rect x="1110.98" y="388.90" width="20.42" height="11.25" fill="#ffffff"/><rect x="1131.40" y="388.90" width="20.42" height="11.25" fill="#ffffff"/><rect x="1151.82" y="388.90" width="20.42" height="11.25" fill="#ffffff"/><rect x="1172.24" y="388.90" width="20.42" height="11.25" fill="#e8edf4"/><rect x="1192.66" y="388.90" width="20.42" height="11.25" fill="#ffffff"/><rect x="1213.08" y="388.90" width="20.42" height="11.25" fill="#bbc9dd"/><rect x="1233.50" y="388.90" width="20.42" height="11.25" fill="#e8edf4"/><rect x="1253.92" y="388.90" width="20.42" height="11.25" fill="#ffffff"/><rect x="1274.34" y="388.90" width="20.42" height="11.25" fill="#d2dbe8"/><rect x="927.20" y="400.15" width="20.42" height="11.25" fill="#ffffff"/><rect x="947.62" y="400.15" width="20.42" height="11.25" fill="#ffffff"/><rect x="968.04" y="400.15" width="20.42" height="11.25" fill="#ffffff"/><rect x="988.46" y="400.15" width="20.42" height="11.25" fill="#ffffff"/><rect x="1008.88" y="400.15" width="20.42" height="11.25" fill="#ffffff"/><rect x="1029.30" y="400.15" width="20.42" height="11.25" fill="#ffffff"/><rect x="1049.72" y="400.15" width="20.42" height="11.25" fill="#ffffff"/><rect x="1070.14" y="400.15" width="20.42" height="11.25" fill="#ffffff"/><rect x="1090.56" y="400.15" width="20.42" height="11.25" fill="#d2dbe8"/><rect x="1110.98" y="400.15" width="20.42" height="11.25" fill="#ffffff"/><rect x="1131.40" y="400.15" width="20.42" height="11.25" fill="#ffffff"/><rect x="1151.82" y="400.15" width="20.42" height="11.25" fill="#ffffff"/><rect x="1172.24" y="400.15" width="20.42" height="11.25" fill="#ffffff"/><rect x="1192.66" y="400.15" width="20.42" height="11.25" fill="#ffffff"/><rect x="1213.08" y="400.15" width="20.42" height="11.25" fill="#d2dbe8"/><rect x="1233.50" y="400.15" width="20.42" height="11.25" fill="#e8edf4"/><rect x="1253.92" y="400.15" width="20.42" height="11.25" fill="#ffffff"/><rect x="1274.34" y="400.15" width="20.42" height="11.25" fill="#d2dbe8"/><path d="M927.20 29.90H1294.76M927.20 41.15H1294.76M927.20 52.40H1294.76M927.20 63.65H1294.76M927.20 74.90H1294.76M927.20 86.15H1294.76M927.20 97.40H1294.76M927.20 108.65H1294.76M927.20 119.90H1294.76M927.20 131.15H1294.76M927.20 29.90V131.15M947.62 29.90V131.15M968.04 29.90V131.15M988.46 29.90V131.15M1008.88 29.90V131.15M1029.30 29.90V131.15M1049.72 29.90V131.15M1070.14 29.90V131.15M1090.56 29.90V131.15M1110.98 29.90V131.15M1131.40 29.90V131.15M1151.82 29.90V131.15M1172.24 29.90V131.15M1192.66 29.90V131.15M1213.08 29.90V131.15M1233.50 29.90V131.15M1253.92 29.90V131.15M1274.34 29.90V131.15M1294.76 29.90V131.15M927.20 134.50H1294.76M927.20 145.75H1294.76M927.20 157.00H1294.76M927.20 168.25H1294.76M927.20 179.50H1294.76M927.20 190.75H1294.76M927.20 202.00H1294.76M927.20 213.25H1294.76M927.20 224.50H1294.76M927.20 235.75H1294.76M927.20 134.50V235.75M947.62 134.50V235.75M968.04 134.50V235.75M988.46 134.50V235.75M1008.88 134.50V235.75M1029.30 134.50V235.75M1049.72 134.50V235.75M1070.14 134.50V235.75M1090.56 134.50V235.75M1110.98 134.50V235.75M1131.40 134.50V235.75M1151.82 134.50V235.75M1172.24 134.50V235.75M1192.66 134.50V235.75M1213.08 134.50V235.75M1233.50 134.50V235.75M1253.92 134.50V235.75M1274.34 134.50V235.75M1294.76 134.50V235.75M927.20 239.40H1294.76M927.20 250.65H1294.76M927.20 261.90H1294.76M927.20 273.15H1294.76M927.20 239.40V273.15M947.62 239.40V273.15M968.04 239.40V273.15M988.46 239.40V273.15M1008.88 239.40V273.15M1029.30 239.40V273.15M1049.72 239.40V273.15M1070.14 239.40V273.15M1090.56 239.40V273.15M1110.98 239.40V273.15M1131.40 239.40V273.15M1151.82 239.40V273.15M1172.24 239.40V273.15M1192.66 239.40V273.15M1213.08 239.40V273.15M1233.50 239.40V273.15M1253.92 239.40V273.15M1274.34 239.40V273.15M1294.76 239.40V273.15M927.20 276.40H1294.76M927.20 287.65H1294.76M927.20 298.90H1294.76M927.20 310.15H1294.76M927.20 321.40H1294.76M927.20 332.65H1294.76M927.20 343.90H1294.76M927.20 355.15H1294.76M927.20 366.40H1294.76M927.20 377.65H1294.76M927.20 388.90H1294.76M927.20 400.15H1294.76M927.20 411.40H1294.76M927.20 276.40V411.40M947.62 276.40V411.40M968.04 276.40V411.40M988.46 276.40V411.40M1008.88 276.40V411.40M1029.30 276.40V411.40M1049.72 276.40V411.40M1070.14 276.40V411.40M1090.56 276.40V411.40M1110.98 276.40V411.40M1131.40 276.40V411.40M1151.82 276.40V411.40M1172.24 276.40V411.40M1192.66 276.40V411.40M1213.08 276.40V411.40M1233.50 276.40V411.40M1253.92 276.40V411.40M1274.34 276.40V411.40M1294.76 276.40V411.40" stroke="#a8a8a8" stroke-width="0.75" fill="none"/><g font-size="7" fill="#3c3c3c" text-anchor="middle"><text x="1019.09" y="38.02">1</text><text x="957.83" y="49.27">1</text><text x="978.25" y="49.27">1</text><text x="998.67" y="49.27">1</text><text x="1019.09" y="49.27">1</text><text x="1039.51" y="49.27">1</text><text x="1080.35" y="49.27">2</text><text x="1202.87" y="49.27">1</text><text x="1264.13" y="49.27">1</text><text x="1019.09" y="60.52">1</text><text x="1121.19" y="60.52">1</text><text x="957.83" y="71.78">1</text><text x="1019.09" y="71.78">2</text><text x="1059.93" y="71.78">1</text><text x="1202.87" y="71.78">1</text><text x="1264.13" y="71.78">1</text><text x="1080.35" y="83.03">3</text><text x="1100.77" y="83.03">3</text><text x="1162.03" y="83.03">1</text><text x="1223.29" y="83.03">3</text><text x="1243.71" y="83.03">3</text><text x="1284.55" y="83.03">3</text><text x="978.25" y="94.28">2</text><text x="1019.09" y="94.28">1</text><text x="1039.51" y="94.28">2</text><text x="1121.19" y="94.28">2</text><text x="978.25" y="105.53">2</text><text x="1019.09" y="105.53">2</text><text x="1039.51" y="105.53">2</text><text x="1080.35" y="105.53">3</text><text x="1121.19" y="105.53">3</text><text x="1141.61" y="105.53">1</text><text x="1162.03" y="105.53">1</text><text x="1182.45" y="105.53">1</text><text x="1202.87" y="105.53">1</text><text x="937.41" y="116.78">1</text><text x="957.83" y="116.78">1</text><text x="998.67" y="116.78">1</text><text x="1019.09" y="116.78">1</text><text x="1059.93" y="116.78">1</text><text x="1080.35" y="116.78">1</text><text x="1100.77" y="116.78">2</text><text x="1121.19" y="116.78">1</text><text x="1141.61" y="116.78">1</text><text x="1162.03" y="116.78">1</text><text x="1202.87" y="116.78">1</text><text x="1223.29" y="116.78">2</text><text x="1243.71" y="116.78">2</text><text x="1264.13" y="116.78">1</text><text x="1284.55" y="116.78">2</text><text x="978.25" y="128.03">2</text><text x="1019.09" y="128.03">1</text><text x="1039.51" y="128.03">1</text><text x="1121.19" y="128.03">1</text><text x="1141.61" y="128.03">2</text><text x="1162.03" y="128.03">2</text><text x="1182.45" y="128.03">1</text><text x="1121.19" y="142.62">1</text><text x="1141.61" y="142.62">1</text><text x="978.25" y="153.88">1</text><text x="1019.09" y="153.88">1</text><text x="1039.51" y="153.88">1</text><text x="1121.19" y="153.88">1</text><text x="1141.61" y="153.88">1</text><text x="1162.03" y="153.88">1</text><text x="1182.45" y="153.88">1</text><text x="978.25" y="165.12">1</text><text x="1019.09" y="165.12">1</text><text x="1039.51" y="165.12">1</text><text x="1121.19" y="165.12">1</text><text x="1141.61" y="165.12">2</text><text x="1162.03" y="165.12">2</text><text x="1182.45" y="165.12">2</text><text x="1223.29" y="165.12">1</text><text x="1243.71" y="165.12">1</text><text x="1284.55" y="165.12">2</text><text x="1162.03" y="176.38">1</text><text x="978.25" y="187.62">1</text><text x="1019.09" y="187.62">1</text><text x="1039.51" y="187.62">1</text><text x="1121.19" y="187.62">1</text><text x="978.25" y="198.88">1</text><text x="1019.09" y="198.88">1</text><text x="1039.51" y="198.88">1</text><text x="1100.77" y="198.88">1</text><text x="1121.19" y="198.88">1</text><text x="1141.61" y="198.88">2</text><text x="1162.03" y="198.88">7</text><text x="1182.45" y="198.88">8</text><text x="1223.29" y="198.88">1</text><text x="1284.55" y="198.88">1</text><text x="1080.35" y="210.12">1</text><text x="1100.77" y="210.12">1</text><text x="1223.29" y="210.12">1</text><text x="1243.71" y="210.12">2</text><text x="1284.55" y="210.12">1</text><text x="957.83" y="221.38">1</text><text x="978.25" y="221.38">1</text><text x="1019.09" y="221.38">1</text><text x="1039.51" y="221.38">1</text><text x="1059.93" y="221.38">1</text><text x="1100.77" y="221.38">2</text><text x="1141.61" y="221.38">2</text><text x="1223.29" y="221.38">1</text><text x="1243.71" y="221.38">2</text><text x="1264.13" y="221.38">1</text><text x="957.83" y="232.62">1</text><text x="998.67" y="232.62">1</text><text x="1059.93" y="232.62">1</text><text x="1100.77" y="232.62">1</text><text x="1141.61" y="232.62">1</text><text x="1202.87" y="232.62">1</text><text x="1223.29" y="232.62">1</text><text x="1243.71" y="232.62">1</text><text x="1264.13" y="232.62">1</text><text x="1284.55" y="232.62">1</text><text x="1019.09" y="247.53">3</text><text x="1100.77" y="247.53">2</text><text x="1121.19" y="247.53">1</text><text x="1141.61" y="247.53">1</text><text x="1284.55" y="247.53">2</text><text x="957.83" y="258.77">2</text><text x="978.25" y="258.77">5</text><text x="1019.09" y="258.77">2</text><text x="1039.51" y="258.77">5</text><text x="1059.93" y="258.77">1</text><text x="1100.77" y="258.77">1</text><text x="1121.19" y="258.77">3</text><text x="1141.61" y="258.77">1</text><text x="1223.29" y="258.77">1</text><text x="1243.71" y="258.77">2</text><text x="1284.55" y="258.77">1</text><text x="957.83" y="270.02">1</text><text x="978.25" y="270.02">1</text><text x="998.67" y="270.02">2</text><text x="1019.09" y="270.02">3</text><text x="1039.51" y="270.02">1</text><text x="1059.93" y="270.02">1</text><text x="1080.35" y="270.02">1</text><text x="1100.77" y="270.02">1</text><text x="1121.19" y="270.02">1</text><text x="1141.61" y="270.02">1</text><text x="1162.03" y="270.02">3</text><text x="1182.45" y="270.02">2</text><text x="1202.87" y="270.02">2</text><text x="1264.13" y="270.02">1</text><text x="1284.55" y="270.02">1</text><text x="1100.77" y="284.52">1</text><text x="1223.29" y="284.52">1</text><text x="1243.71" y="284.52">1</text><text x="1284.55" y="284.52">1</text><text x="1100.77" y="295.77">2</text><text x="1121.19" y="295.77">1</text><text x="1223.29" y="295.77">2</text><text x="1243.71" y="295.77">2</text><text x="1284.55" y="295.77">2</text><text x="1100.77" y="307.02">2</text><text x="1223.29" y="307.02">2</text><text x="1243.71" y="307.02">2</text><text x="1284.55" y="307.02">2</text><text x="937.41" y="318.27">1</text><text x="957.83" y="318.27">1</text><text x="978.25" y="318.27">1</text><text x="1019.09" y="318.27">1</text><text x="1059.93" y="318.27">1</text><text x="1080.35" y="318.27">2</text><text x="1100.77" y="318.27">1</text><text x="1121.19" y="318.27">1</text><text x="1141.61" y="318.27">1</text><text x="1162.03" y="318.27">1</text><text x="1182.45" y="318.27">1</text><text x="1202.87" y="318.27">2</text><text x="1223.29" y="318.27">1</text><text x="1243.71" y="318.27">1</text><text x="1264.13" y="318.27">1</text><text x="1284.55" y="318.27">1</text><text x="957.83" y="329.52">1</text><text x="978.25" y="329.52">1</text><text x="1019.09" y="329.52">1</text><text x="1039.51" y="329.52">1</text><text x="1059.93" y="329.52">1</text><text x="1100.77" y="329.52">1</text><text x="1121.19" y="329.52">1</text><text x="1141.61" y="329.52">1</text><text x="1162.03" y="329.52">1</text><text x="1182.45" y="329.52">1</text><text x="1243.71" y="329.52">1</text><text x="957.83" y="340.77">2</text><text x="978.25" y="340.77">1</text><text x="998.67" y="340.77">2</text><text x="1019.09" y="340.77">1</text><text x="1039.51" y="340.77">1</text><text x="1059.93" y="340.77">3</text><text x="1080.35" y="340.77">1</text><text x="1100.77" y="340.77">1</text><text x="1121.19" y="340.77">1</text><text x="1141.61" y="340.77">1</text><text x="1162.03" y="340.77">1</text><text x="1182.45" y="340.77">1</text><text x="1202.87" y="340.77">1</text><text x="1284.55" y="340.77">1</text><text x="957.83" y="352.02">2</text><text x="978.25" y="352.02">1</text><text x="1019.09" y="352.02">1</text><text x="1039.51" y="352.02">1</text><text x="1059.93" y="352.02">2</text><text x="1100.77" y="352.02">1</text><text x="1121.19" y="352.02">1</text><text x="1141.61" y="352.02">1</text><text x="1182.45" y="352.02">1</text><text x="1223.29" y="352.02">1</text><text x="1243.71" y="352.02">1</text><text x="1264.13" y="352.02">1</text><text x="1284.55" y="352.02">1</text><text x="978.25" y="363.27">1</text><text x="1019.09" y="363.27">2</text><text x="1039.51" y="363.27">1</text><text x="1080.35" y="363.27">2</text><text x="1100.77" y="363.27">2</text><text x="1121.19" y="363.27">4</text><text x="1141.61" y="363.27">1</text><text x="1182.45" y="363.27">1</text><text x="1202.87" y="363.27">1</text><text x="1223.29" y="363.27">1</text><text x="1243.71" y="363.27">2</text><text x="1284.55" y="363.27">1</text><text x="1100.77" y="374.52">2</text><text x="1223.29" y="374.52">2</text><text x="1243.71" y="374.52">1</text><text x="1284.55" y="374.52">2</text><text x="1100.77" y="385.77">1</text><text x="1223.29" y="385.77">3</text><text x="1243.71" y="385.77">1</text><text x="1284.55" y="385.77">2</text><text x="1100.77" y="397.02">2</text><text x="1182.45" y="397.02">1</text><text x="1223.29" y="397.02">3</text><text x="1243.71" y="397.02">1</text><text x="1284.55" y="397.02">2</text><text x="1100.77" y="408.27">2</text><text x="1223.29" y="408.27">2</text><text x="1243.71" y="408.27">1</text><text x="1284.55" y="408.27">2</text></g><g font-size="9.2" font-style="italic" fill="#222"><text x="1297.5" y="38.73">pqqB</text><text x="1297.5" y="49.98">pqqC</text><text x="1297.5" y="61.23">pqqD</text><text x="1297.5" y="72.48">pqqE</text><text x="1297.5" y="83.73">glpC</text><text x="1297.5" y="94.98">gcd</text><text x="1297.5" y="106.23">ppx</text><text x="1297.5" y="117.48">ppa</text><text x="1297.5" y="128.72">ppk1</text><text x="1297.5" y="143.32">phnA</text><text x="1297.5" y="154.57">glpA</text><text x="1297.5" y="165.82">glpK</text><text x="1297.5" y="177.07">bpp</text><text x="1297.5" y="188.32">phnP</text><text x="1297.5" y="199.57">glpQ</text><text x="1297.5" y="210.82">phnW</text><text x="1297.5" y="222.07">phoA</text><text x="1297.5" y="233.32">phoD</text><text x="1297.5" y="248.22">phoB</text><text x="1297.5" y="259.47">phoR</text><text x="1297.5" y="270.72">phoU</text><text x="1297.5" y="285.22">phnC</text><text x="1297.5" y="296.47">phnD</text><text x="1297.5" y="307.72">phnE</text><text x="1297.5" y="318.97">pit</text><text x="1297.5" y="330.22">pstA</text><text x="1297.5" y="341.47">pstB</text><text x="1297.5" y="352.72">pstC</text><text x="1297.5" y="363.97">pstS</text><text x="1297.5" y="375.22">ugpA</text><text x="1297.5" y="386.47">ugpB</text><text x="1297.5" y="397.72">ugpC</text><text x="1297.5" y="408.97">ugpE</text></g><g font-size="8.5" fill="#1e1e1e" stroke="#1e1e1e" stroke-width="0.12"><text x="939.71" y="413.8" transform="rotate(-90 939.71 413.8)" text-anchor="end">MAG18</text><text x="960.13" y="413.8" transform="rotate(-90 960.13 413.8)" text-anchor="end">MAG20</text><text x="980.55" y="413.8" transform="rotate(-90 980.55 413.8)" text-anchor="end">MAG24</text><text x="1000.97" y="413.8" transform="rotate(-90 1000.97 413.8)" text-anchor="end">MAG26</text><text x="1021.39" y="413.8" transform="rotate(-90 1021.39 413.8)" text-anchor="end">MAG27</text><text x="1041.81" y="413.8" transform="rotate(-90 1041.81 413.8)" text-anchor="end">MAG36</text><text x="1062.23" y="413.8" transform="rotate(-90 1062.23 413.8)" text-anchor="end">MAG54</text><text x="1082.65" y="413.8" transform="rotate(-90 1082.65 413.8)" text-anchor="end">MAG69</text><text x="1103.07" y="413.8" transform="rotate(-90 1103.07 413.8)" text-anchor="end">MAG106</text><text x="1123.49" y="413.8" transform="rotate(-90 1123.49 413.8)" text-anchor="end">MAG152</text><text x="1143.91" y="413.8" transform="rotate(-90 1143.91 413.8)" text-anchor="end">MAG162</text><text x="1164.33" y="413.8" transform="rotate(-90 1164.33 413.8)" text-anchor="end">MAG207</text><text x="1184.75" y="413.8" transform="rotate(-90 1184.75 413.8)" text-anchor="end">MAG229</text><text x="1205.17" y="413.8" transform="rotate(-90 1205.17 413.8)" text-anchor="end">MAG260</text><text x="1225.59" y="413.8" transform="rotate(-90 1225.59 413.8)" text-anchor="end">MAG261</text><text x="1246.01" y="413.8" transform="rotate(-90 1246.01 413.8)" text-anchor="end">MAG271</text><text x="1266.43" y="413.8" transform="rotate(-90 1266.43 413.8)" text-anchor="end">MAG274</text><text x="1286.85" y="413.8" transform="rotate(-90 1286.85 413.8)" text-anchor="end">MAG345</text></g><defs><linearGradient id="cb" x1="0" y1="0" x2="0" y2="1"><stop offset="0" stop-color="#4a6fa5"/><stop offset="1" stop-color="#ffffff"/></linearGradient></defs><rect x="1325.7" y="29.5" width="8.7" height="128" fill="url(#cb)"/><text x="1337" y="33.40" font-size="9.2" fill="#333">8</text><text x="1337" y="64.72" font-size="9.2" fill="#333">6</text><text x="1337" y="96.05" font-size="9.2" fill="#333">4</text><text x="1337" y="127.38" font-size="9.2" fill="#333">2</text><text x="1337" y="158.70" font-size="9.2" fill="#333">0</text>
</svg></body></html>
